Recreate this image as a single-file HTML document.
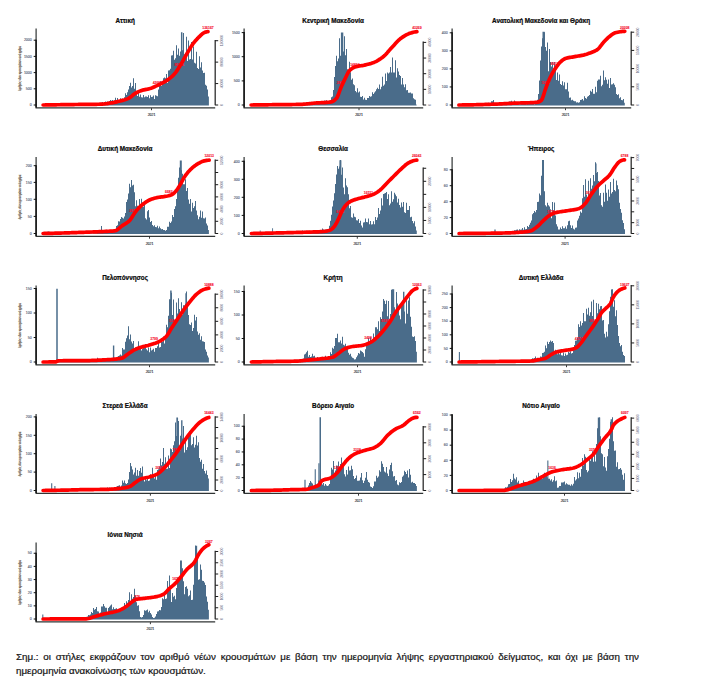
<!DOCTYPE html>
<html lang="el">
<head>
<meta charset="utf-8">
<title>Κρούσματα ανά περιφέρεια</title>
<style>
html,body{margin:0;padding:0;background:#fff;}
body{width:706px;height:689px;position:relative;overflow:hidden;font-family:"Liberation Sans","DejaVu Sans",sans-serif;}
svg{position:absolute;left:0;top:0;}
svg text{font-family:"Liberation Sans","DejaVu Sans",sans-serif;}
.tt{font-size:6.35px;font-weight:bold;fill:#0a0a0a;stroke:#0a0a0a;stroke-width:0.22px;}
.tl{font-size:3.5px;fill:#51566f;stroke:#51566f;stroke-width:0.1px;}
.xl{font-size:3.45px;fill:#23262d;stroke:#23262d;stroke-width:0.12px;}
.rl{font-size:3.4px;fill:#66687f;}
.yt{font-size:2.9px;fill:#66574a;stroke:#66574a;stroke-width:0.14px;}
.rd{font-size:3.4px;fill:#f5102e;font-weight:bold;stroke:#f5102e;stroke-width:0.1px;}
.note{position:absolute;left:16px;top:650px;width:623px;font-size:9.8px;line-height:14px;color:#151515;-webkit-text-stroke:0.22px #151515;text-align:justify;margin:0;}
</style>
</head>
<body>
<svg width="706" height="689" viewBox="0 0 706 689">
<g transform="translate(36.1 105)">
<path d="M7 0V-0.47 H7.9V-0.71 H8.9V-0.62 H9.9V-0.89 H10.9V-1.01 H11.9V-0.97 H12.9V-0.96 H13.9V-0.68 H14.9V-0.93 H15.9V-0.76 H16.9V-0.74 H17.9V-0.62 H18.9V-0.66 H19.9V-0.59 H20.9V-0.66 H21.9V-0.68 H22.9V-0.51 H23.9V-0.75 H24.9V-0.7 H25.9V-0.53 H26.9V-0.69 H27.9V-0.48 H28.9V-0.64 H29.9V-0.62 H30.9V-0.66 H31.9V-0.55 H32.9V-0.41 H33.9V-0.5 H34.9V-0.43 H35.9V-0.61 H36.9V-0.49 H37.9V-0.53 H38.9V-0.49 H39.9V-0.54 H40.9V-0.51 H41.9V-0.48 H42.9V-0.4 H43.9V-0.51 H44.9V-0.49 H45.9V-0.58 H46.9V-0.48 H47.9V-0.5 H48.9V-0.59 H49.9V-0.53 H50.9V-0.52 H51.9V-0.67 H52.9V-0.47 H53.9V-0.55 H54.9V-0.59 H55.9V-0.73 H56.9V-0.54 H57.9V-0.74 H58.9V-0.57 H59.9V-0.76 H60.9V-0.9 H61.9V-0.8 H62.9V-0.78 H63.9V-1.81 H64.9V-2.61 H65.9V-3.34 H66.9V-2.45 H67.9V-2.64 H68.9V-3.94 H69.9V-2.93 H70.9V-3.91 H71.9V-3.73 H72.9V-4.29 H73.9V-5.48 H74.9V-4.77 H75.9V-5.5 H76.9V-4.75 H77.9V-5.05 H78.9V-7.58 H79.9V-5.15 H80.9V-7.3 H81.9V-5.14 H82.9V-5.31 H83.9V-7.12 H84.9V-6.41 H85.9V-7.02 H86.9V-5.99 H87.9V-8.17 H88.9V-12.09 H89.9V-10.48 H90.9V-13.19 H91.9V-15.79 H92.9V-19.41 H93.9V-22.53 H94.9V-17.97 H95.9V-19.38 H96.9V-27.1 H97.9V-16.6 H98.9V-22.34 H99.9V-12.67 H100.9V-9.36 H101.9V-12.56 H102.9V-8.77 H103.9V-10.88 H104.9V-8.17 H105.9V-7.9 H106.9V-10.4 H107.9V-8.05 H108.9V-8.88 H109.9V-8.91 H110.9V-8.4 H111.9V-10.23 H112.9V-7.2 H113.9V-10.18 H114.9V-8.47 H115.9V-8.59 H116.9V-9.96 H117.9V-6.47 H118.9V-10.08 H119.9V-9.64 H120.9V-9.12 H121.9V-15.8 H122.9V-21.77 H123.9V-24.19 H124.9V-19.32 H125.9V-21.62 H126.9V-27.22 H127.9V-27.88 H128.9V-27.24 H129.9V-31.46 H130.9V-22.3 H131.9V-34.87 H132.9V-35.23 H133.9V-36.53 H134.9V-49.84 H135.9V-50.2 H136.9V-54.72 H137.9V-45.55 H138.9V-47.07 H139.9V-60.12 H140.9V-50.53 H141.9V-57.02 H142.9V-49.53 H143.9V-53.84 H144.9V-70.98 H145.9V-55.03 H146.9V-72.49 H147.9V-51.06 H148.9V-48.92 H149.9V-68.63 H150.9V-44.28 H151.9V-64.93 H152.9V-45.79 H153.9V-46.43 H154.9V-63.28 H155.9V-45.91 H156.9V-58.91 H157.9V-42.72 H158.9V-41.97 H159.9V-53.68 H160.9V-37.48 H161.9V-36.49 H162.9V-49.23 H163.9V-37.91 H164.9V-43.25 H165.9V-34.78 H166.9V-32.39 H167.9V-32.75 H168.9V-20.69 H169.9V-19.77 H170.9V-15.99 H171.9V-8.81 H172.8V0ZM144.85 0V-73.2H146.35V0Z" fill="#4a6c8a" transform="translate(0 0.4)"/>
<path d="M0 -76.5V2.9H179.1" fill="none" stroke="#303434" stroke-width="1.2" stroke-linejoin="miter"/>
<path d="M0 -65.3V2.6" fill="none" stroke="#0c0c0c" stroke-width="1.4"/>
<path d="M-2.4 0H0M-2.4 -16.2H0M-2.4 -32.4H0M-2.4 -48.6H0M-2.4 -64.8H0" stroke="#111" stroke-width="1" fill="none"/>
<text class="tl" x="-4.4" y="1.2" text-anchor="end">0</text>
<text class="tl" x="-4.4" y="-15" text-anchor="end">500</text>
<text class="tl" x="-4.4" y="-31.2" text-anchor="end">1000</text>
<text class="tl" x="-4.4" y="-47.4" text-anchor="end">1500</text>
<text class="tl" x="-4.4" y="-63.6" text-anchor="end">2000</text>
<path d="M115.4 3.2V5.2" stroke="#222" stroke-width="0.9"/>
<text class="xl" x="115.4" y="11.4" text-anchor="middle">2021</text>
<path d="M179.1 -65.09V0.2" stroke="#2e2e2e" stroke-width="1.3" fill="none"/>
<path d="M179.1 0h3M179.1 -21.43h3M179.1 -42.86h3M179.1 -64.29h3" stroke="#1c1c1c" stroke-width="1" fill="none"/>
<text class="rl" transform="translate(186.7 0) rotate(-90)" text-anchor="middle">0</text>
<text class="rl" transform="translate(186.7 -21.43) rotate(-90)" text-anchor="middle">40000</text>
<text class="rl" transform="translate(186.7 -42.86) rotate(-90)" text-anchor="middle">80000</text>
<text class="rl" transform="translate(186.7 -64.29) rotate(-90)" text-anchor="middle">120000</text>
<text class="yt" transform="translate(-14.9 -36.5) rotate(-90)" text-anchor="middle" textLength="44.8" lengthAdjust="spacingAndGlyphs">Αριθμός νέων κρουσμάτων ανά ημέρα</text>
<text class="rd" x="121.3" y="-21.5" text-anchor="middle">42661</text>
<text class="rd" x="143" y="-39.4" text-anchor="middle">85176</text>
<path d="M7 -0 L8.19 -0.02 L9.37 -0.04 L10.56 -0.06 L11.75 -0.08 L12.93 -0.1 L14.12 -0.12 L15.3 -0.14 L16.49 -0.15 L17.68 -0.17 L18.86 -0.19 L20.05 -0.21 L21.24 -0.23 L22.42 -0.25 L23.61 -0.26 L24.79 -0.28 L25.98 -0.3 L27.17 -0.32 L28.35 -0.34 L29.54 -0.35 L30.73 -0.37 L31.91 -0.39 L33.1 -0.4 L34.29 -0.42 L35.47 -0.44 L36.66 -0.45 L37.84 -0.47 L39.03 -0.49 L40.22 -0.5 L41.4 -0.52 L42.59 -0.53 L43.78 -0.54 L44.96 -0.56 L46.15 -0.57 L47.34 -0.58 L48.52 -0.59 L49.71 -0.6 L50.89 -0.61 L52.08 -0.62 L53.27 -0.63 L54.45 -0.64 L55.64 -0.65 L56.83 -0.67 L58.01 -0.68 L59.2 -0.7 L60.38 -0.72 L61.57 -0.75 L62.76 -0.77 L63.94 -0.8 L65.13 -0.84 L66.32 -0.92 L67.5 -1.02 L68.69 -1.14 L69.88 -1.28 L71.06 -1.44 L72.25 -1.62 L73.43 -1.8 L74.62 -1.98 L75.81 -2.17 L76.99 -2.37 L78.18 -2.6 L79.37 -2.86 L80.55 -3.14 L81.74 -3.44 L82.93 -3.75 L84.11 -4.05 L85.3 -4.36 L86.48 -4.66 L87.67 -4.97 L88.86 -5.31 L90.04 -5.69 L91.23 -6.12 L92.42 -6.61 L93.6 -7.28 L94.79 -8.19 L95.97 -9.21 L97.16 -10.23 L98.35 -11.16 L99.53 -11.88 L100.72 -12.51 L101.91 -13.1 L103.09 -13.63 L104.28 -14.11 L105.47 -14.53 L106.65 -14.89 L107.84 -15.18 L109.02 -15.43 L110.21 -15.66 L111.4 -15.89 L112.58 -16.15 L113.77 -16.46 L114.96 -16.84 L116.14 -17.28 L117.33 -17.77 L118.52 -18.29 L119.7 -18.82 L120.89 -19.35 L122.07 -19.91 L123.26 -20.48 L124.45 -21.08 L125.63 -21.7 L126.82 -22.33 L128.01 -22.98 L129.19 -23.65 L130.38 -24.36 L131.56 -25.12 L132.75 -25.96 L133.94 -26.86 L135.12 -27.85 L136.31 -28.93 L137.5 -30.1 L138.68 -31.39 L139.87 -32.89 L141.06 -34.6 L142.24 -36.47 L143.43 -38.41 L144.61 -40.36 L145.8 -42.35 L146.99 -44.43 L148.17 -46.57 L149.36 -48.71 L150.55 -50.8 L151.73 -52.82 L152.92 -54.88 L154.11 -56.91 L155.29 -58.85 L156.48 -60.64 L157.66 -62.23 L158.85 -63.7 L160.04 -65.07 L161.22 -66.34 L162.41 -67.54 L163.6 -68.68 L164.78 -69.83 L165.97 -70.93 L167.15 -71.84 L168.34 -72.46 L169.53 -72.9 L170.71 -73.24 L171.9 -73.4" fill="none" stroke="#ff0000" stroke-width="3.7" stroke-linecap="round" stroke-linejoin="round"/>
<text class="rd" x="171.9" y="-76.4" text-anchor="middle">136167</text>
<text class="tt" x="89" y="-82.1" text-anchor="middle">Αττική</text>
</g>
<g transform="translate(244.1 105)">
<path d="M7.4 0V-0.25 H7.9V-0.21 H8.9V-0.23 H9.9V-0.32 H10.9V-0.25 H11.9V-0.3 H12.9V-0.31 H13.9V-0.36 H14.9V-0.23 H15.9V-0.29 H16.9V-0.28 H17.9V-0.31 H18.9V-0.28 H19.9V-0.26 H20.9V-0.4 H21.9V-0.36 H22.9V-0.37 H23.9V-0.42 H24.9V-0.36 H25.9V-0.31 H26.9V-0.37 H27.9V-0.42 H28.9V-0.38 H29.9V-0.45 H30.9V-0.44 H31.9V-0.52 H32.9V-0.4 H33.9V-0.37 H34.9V-0.48 H35.9V-0.5 H36.9V-0.5 H37.9V-0.51 H38.9V-0.44 H39.9V-0.55 H40.9V-0.58 H41.9V-0.67 H42.9V-0.68 H43.9V-0.55 H44.9V-0.71 H45.9V-0.69 H46.9V-0.66 H47.9V-0.77 H48.9V-0.88 H49.9V-0.65 H50.9V-0.61 H51.9V-0.6 H52.9V-0.66 H53.9V-0.89 H54.9V-0.95 H55.9V-1.35 H56.9V-1.65 H57.9V-1.96 H58.9V-2.08 H59.9V-1.94 H60.9V-2.06 H61.9V-3.16 H62.9V-2.33 H63.9V-2.25 H64.9V-2.43 H65.9V-2.01 H66.9V-2.52 H67.9V-2.67 H68.9V-3.17 H69.9V-2.17 H70.9V-2.28 H71.9V-3.02 H72.9V-3.03 H73.9V-3.75 H74.9V-2.74 H75.9V-2.88 H76.9V-4.42 H77.9V-3.11 H78.9V-3.18 H79.9V-4.96 H80.9V-4.59 H81.9V-5.15 H82.9V-4.46 H83.9V-4.21 H84.9V-4.71 H85.9V-5.06 H86.9V-8.27 H87.9V-8.84 H88.9V-15.41 H89.9V-28.28 H90.9V-39.49 H91.9V-49.58 H92.9V-44.24 H93.9V-46.94 H94.9V-67.15 H95.9V-49.76 H96.9V-70.6 H97.9V-52.48 H98.9V-53.82 H99.9V-69.05 H100.9V-50.1 H101.9V-56.33 H102.9V-36.17 H103.9V-35.49 H104.9V-43.59 H105.9V-33.15 H106.9V-25.75 H107.9V-26.96 H108.9V-21.18 H109.9V-20.14 H110.9V-14.5 H111.9V-13.13 H112.9V-17.06 H113.9V-12.88 H114.9V-13.8 H115.9V-8.75 H116.9V-8.41 H117.9V-9.34 H118.9V-5.92 H119.9V-7.71 H120.9V-5.56 H121.9V-5.31 H122.9V-7.35 H123.9V-7.41 H124.9V-9.46 H125.9V-8.71 H126.9V-9.1 H127.9V-13.27 H128.9V-11.35 H129.9V-12.97 H130.9V-14.19 H131.9V-16.21 H132.9V-17.67 H133.9V-16.49 H134.9V-20.93 H135.9V-16.22 H136.9V-18.59 H137.9V-28.71 H138.9V-19.54 H139.9V-21 H140.9V-31.96 H141.9V-24.28 H142.9V-32.9 H143.9V-32.02 H144.9V-32.93 H145.9V-38.41 H146.9V-32.8 H147.9V-48.01 H148.9V-32.93 H149.9V-32.9 H150.9V-45.27 H151.9V-27.9 H152.9V-37.18 H153.9V-33.97 H154.9V-30.36 H155.9V-29.47 H156.9V-20.87 H157.9V-27.52 H158.9V-20.8 H159.9V-18.17 H160.9V-21.22 H161.9V-15.05 H162.9V-15.48 H163.9V-12.6 H164.9V-12.72 H165.9V-12.93 H166.9V-11.81 H167.9V-11.9 H168.9V-7.17 H169.9V-6.12 H170.9V-5.64 H171.9V-0.93 H172.5V0ZM96.8 0V-72.8H99.2V0Z" fill="#4a6c8a" transform="translate(0 0.4)"/>
<path d="M0 -76.5V2.9H179.1" fill="none" stroke="#303434" stroke-width="1.2" stroke-linejoin="miter"/>
<path d="M0 -72.9V2.6" fill="none" stroke="#0c0c0c" stroke-width="1.4"/>
<path d="M-2.4 0H0M-2.4 -24.1H0M-2.4 -48.3H0M-2.4 -72.4H0" stroke="#111" stroke-width="1" fill="none"/>
<text class="tl" x="-4.4" y="1.2" text-anchor="end">0</text>
<text class="tl" x="-4.4" y="-22.9" text-anchor="end">500</text>
<text class="tl" x="-4.4" y="-47.1" text-anchor="end">1000</text>
<text class="tl" x="-4.4" y="-71.2" text-anchor="end">1500</text>
<path d="M114.9 3.2V5.2" stroke="#222" stroke-width="0.9"/>
<text class="xl" x="114.9" y="11.4" text-anchor="middle">2021</text>
<path d="M179.1 -63.4V0.2" stroke="#2e2e2e" stroke-width="1.3" fill="none"/>
<path d="M179.1 0h3M179.1 -15.65h3M179.1 -31.3h3M179.1 -46.95h3M179.1 -62.6h3" stroke="#1c1c1c" stroke-width="1" fill="none"/>
<text class="rl" transform="translate(186.7 0) rotate(-90)" text-anchor="middle">0</text>
<text class="rl" transform="translate(186.7 -15.65) rotate(-90)" text-anchor="middle">10000</text>
<text class="rl" transform="translate(186.7 -31.3) rotate(-90)" text-anchor="middle">20000</text>
<text class="rl" transform="translate(186.7 -46.95) rotate(-90)" text-anchor="middle">30000</text>
<text class="rl" transform="translate(186.7 -62.6) rotate(-90)" text-anchor="middle">40000</text>
<text class="rd" x="110.8" y="-39.4" text-anchor="middle">14824</text>
<text class="rd" x="96.5" y="-21.5" text-anchor="middle">2812</text>
<path d="M7 -0 L8.19 -0.02 L9.39 -0.03 L10.58 -0.05 L11.77 -0.06 L12.96 -0.08 L14.16 -0.09 L15.35 -0.11 L16.54 -0.13 L17.74 -0.14 L18.93 -0.16 L20.12 -0.17 L21.31 -0.19 L22.51 -0.2 L23.7 -0.22 L24.89 -0.23 L26.08 -0.25 L27.28 -0.26 L28.47 -0.28 L29.66 -0.29 L30.86 -0.31 L32.05 -0.32 L33.24 -0.33 L34.43 -0.34 L35.63 -0.35 L36.82 -0.36 L38.01 -0.37 L39.21 -0.38 L40.4 -0.39 L41.59 -0.4 L42.78 -0.41 L43.98 -0.43 L45.17 -0.44 L46.36 -0.45 L47.56 -0.46 L48.75 -0.48 L49.94 -0.49 L51.13 -0.51 L52.33 -0.53 L53.52 -0.55 L54.71 -0.57 L55.91 -0.6 L57.1 -0.64 L58.29 -0.71 L59.48 -0.79 L60.68 -0.89 L61.87 -1.01 L63.06 -1.14 L64.25 -1.27 L65.45 -1.4 L66.64 -1.53 L67.83 -1.66 L69.03 -1.78 L70.22 -1.89 L71.41 -1.98 L72.6 -2.05 L73.8 -2.12 L74.99 -2.18 L76.18 -2.23 L77.38 -2.28 L78.57 -2.34 L79.76 -2.4 L80.95 -2.47 L82.15 -2.55 L83.34 -2.65 L84.53 -2.76 L85.73 -2.9 L86.92 -3.06 L88.11 -3.34 L89.3 -3.95 L90.5 -4.84 L91.69 -5.98 L92.88 -7.34 L94.07 -9.85 L95.27 -13.25 L96.46 -16.44 L97.65 -19.17 L98.85 -21.81 L100.04 -24.35 L101.23 -26.77 L102.42 -29.28 L103.62 -31.73 L104.81 -33.76 L106 -35.07 L107.2 -36.04 L108.39 -36.86 L109.58 -37.5 L110.77 -37.99 L111.97 -38.35 L113.16 -38.63 L114.35 -38.86 L115.55 -39.06 L116.74 -39.24 L117.93 -39.43 L119.12 -39.64 L120.32 -39.88 L121.51 -40.16 L122.7 -40.44 L123.89 -40.73 L125.09 -41.05 L126.28 -41.38 L127.47 -41.75 L128.67 -42.16 L129.86 -42.6 L131.05 -43.12 L132.24 -43.7 L133.44 -44.36 L134.63 -45.08 L135.82 -45.85 L137.02 -46.68 L138.21 -47.55 L139.4 -48.48 L140.59 -49.57 L141.79 -50.8 L142.98 -52.11 L144.17 -53.49 L145.37 -54.88 L146.56 -56.24 L147.75 -57.54 L148.94 -58.79 L150.14 -60.09 L151.33 -61.41 L152.52 -62.7 L153.72 -63.95 L154.91 -65.12 L156.1 -66.16 L157.29 -67.06 L158.49 -67.88 L159.68 -68.65 L160.87 -69.37 L162.06 -70.05 L163.26 -70.65 L164.45 -71.19 L165.64 -71.65 L166.84 -72.03 L168.03 -72.37 L169.22 -72.68 L170.41 -72.95 L171.61 -73.16 L172.8 -73.3" fill="none" stroke="#ff0000" stroke-width="3.7" stroke-linecap="round" stroke-linejoin="round"/>
<text class="rd" x="172.8" y="-76.4" text-anchor="middle">43269</text>
<text class="tt" x="89" y="-82.1" text-anchor="middle">Κεντρική Μακεδονία</text>
</g>
<g transform="translate(452.1 105)">
<path d="M7.2 0V-0.3 H7.9V-0.2 H8.9V-0.24 H9.9V-0.23 H10.9V-0.26 H11.9V-0.22 H12.9V-0.29 H13.9V-0.25 H14.9V-0.35 H15.9V-0.3 H16.9V-0.26 H17.9V-0.3 H18.9V-0.37 H19.9V-0.41 H20.9V-0.35 H21.9V-0.35 H22.9V-0.31 H23.9V-0.37 H24.9V-0.39 H25.9V-0.39 H26.9V-0.29 H27.9V-0.36 H28.9V-0.35 H29.9V-0.49 H30.9V-0.58 H31.9V-1.16 H32.9V-1.2 H33.9V-1.37 H34.9V-1.96 H35.9V-2.73 H36.9V-1.95 H37.9V-2.28 H38.9V-4.16 H39.9V-4.21 H40.9V-5.38 H41.9V-1.22 H42.9V-1.32 H43.9V-1.27 H44.9V-1.44 H45.9V-0.96 H46.9V-1.27 H47.9V-1.44 H48.9V-1.24 H49.9V-1.44 H50.9V-1.25 H51.9V-1.52 H52.9V-2.44 H53.9V-3.23 H54.9V-2.85 H55.9V-3.22 H56.9V-3.93 H57.9V-3.85 H58.9V-4.54 H59.9V-3.6 H60.9V-3.38 H61.9V-4.8 H62.9V-3.57 H63.9V-3.25 H64.9V-1.43 H65.9V-1.69 H66.9V-1.22 H67.9V-1.27 H68.9V-1.37 H69.9V-1.62 H70.9V-1.63 H71.9V-1.31 H72.9V-1.47 H73.9V-1.26 H74.9V-1.3 H75.9V-1.34 H76.9V-1.29 H77.9V-1.46 H78.9V-1.48 H79.9V-1.47 H80.9V-1.66 H81.9V-1.2 H82.9V-1.64 H83.9V-1.31 H84.9V-5.54 H85.9V-11.41 H86.9V-25.02 H87.9V-44.84 H88.9V-58.82 H89.9V-67.15 H90.9V-59.81 H91.9V-73.05 H92.9V-58.43 H93.9V-54.64 H94.9V-63.02 H95.9V-34.15 H96.9V-56.35 H97.9V-43.4 H98.9V-38.9 H99.9V-43.32 H100.9V-35.4 H101.9V-43.52 H102.9V-37.24 H103.9V-25.45 H104.9V-32.86 H105.9V-24.58 H106.9V-30.96 H107.9V-21.48 H108.9V-20.39 H109.9V-24.07 H110.9V-20.02 H111.9V-23.23 H112.9V-16.26 H113.9V-16.15 H114.9V-22.59 H115.9V-13.93 H116.9V-7.63 H117.9V-7.87 H118.9V-5.26 H119.9V-5.63 H120.9V-4.64 H121.9V-4.06 H122.9V-4.22 H123.9V-2.94 H124.9V-3.12 H125.9V-2.67 H126.9V-3.1 H127.9V-5.42 H128.9V-5.57 H129.9V-6.47 H130.9V-4.98 H131.9V-9.19 H132.9V-7.5 H133.9V-6.62 H134.9V-8.62 H135.9V-9.34 H136.9V-10.51 H137.9V-14.72 H138.9V-13.64 H139.9V-16.44 H140.9V-11.75 H141.9V-11.62 H142.9V-18.54 H143.9V-13.14 H144.9V-24.77 H145.9V-25.89 H146.9V-26 H147.9V-29.59 H148.9V-19.16 H149.9V-20.76 H150.9V-34.94 H151.9V-25.19 H152.9V-28.23 H153.9V-25.68 H154.9V-21.59 H155.9V-25.94 H156.9V-17.44 H157.9V-27.42 H158.9V-20.9 H159.9V-21.08 H160.9V-22.13 H161.9V-20.56 H162.9V-18.15 H163.9V-11.39 H164.9V-10.48 H165.9V-11.15 H166.9V-7.06 H167.9V-8.08 H168.9V-5.36 H169.9V-5.13 H170.9V-6.28 H171.9V-2.59 H172.7V0ZM90.4 0V-73.6H92.6V0Z" fill="#4a6c8a" transform="translate(0 0.4)"/>
<path d="M0 -76.5V2.9H179.1" fill="none" stroke="#303434" stroke-width="1.2" stroke-linejoin="miter"/>
<path d="M0 -72.7V2.6" fill="none" stroke="#0c0c0c" stroke-width="1.4"/>
<path d="M-2.4 0H0M-2.4 -18.05H0M-2.4 -36.1H0M-2.4 -54.15H0M-2.4 -72.2H0" stroke="#111" stroke-width="1" fill="none"/>
<text class="tl" x="-4.4" y="1.2" text-anchor="end">0</text>
<text class="tl" x="-4.4" y="-16.85" text-anchor="end">100</text>
<text class="tl" x="-4.4" y="-34.9" text-anchor="end">200</text>
<text class="tl" x="-4.4" y="-52.95" text-anchor="end">300</text>
<text class="tl" x="-4.4" y="-71" text-anchor="end">400</text>
<path d="M113.4 3.2V5.2" stroke="#222" stroke-width="0.9"/>
<text class="xl" x="113.4" y="11.4" text-anchor="middle">2021</text>
<path d="M179.1 -73.6V0.2" stroke="#2e2e2e" stroke-width="1.3" fill="none"/>
<path d="M179.1 0h3M179.1 -18.2h3M179.1 -36.4h3M179.1 -54.6h3M179.1 -72.8h3" stroke="#1c1c1c" stroke-width="1" fill="none"/>
<text class="rl" transform="translate(186.7 0) rotate(-90)" text-anchor="middle">0</text>
<text class="rl" transform="translate(186.7 -18.2) rotate(-90)" text-anchor="middle">5000</text>
<text class="rl" transform="translate(186.7 -36.4) rotate(-90)" text-anchor="middle">10000</text>
<text class="rl" transform="translate(186.7 -54.6) rotate(-90)" text-anchor="middle">15000</text>
<text class="rl" transform="translate(186.7 -72.8) rotate(-90)" text-anchor="middle">20000</text>
<text class="rd" x="102.2" y="-39.7" text-anchor="middle">8932</text>
<text class="rd" x="93.5" y="-21.5" text-anchor="middle">5012</text>
<path d="M6.8 -0 L7.99 -0.01 L9.19 -0.02 L10.38 -0.03 L11.57 -0.05 L12.77 -0.06 L13.96 -0.08 L15.15 -0.1 L16.35 -0.12 L17.54 -0.14 L18.74 -0.17 L19.93 -0.19 L21.12 -0.22 L22.32 -0.25 L23.51 -0.27 L24.7 -0.3 L25.9 -0.34 L27.09 -0.37 L28.28 -0.4 L29.48 -0.43 L30.67 -0.47 L31.86 -0.5 L33.06 -0.54 L34.25 -0.58 L35.44 -0.61 L36.64 -0.65 L37.83 -0.69 L39.03 -0.73 L40.22 -0.77 L41.41 -0.81 L42.61 -0.85 L43.8 -0.9 L44.99 -0.95 L46.19 -1.01 L47.38 -1.06 L48.57 -1.13 L49.77 -1.19 L50.96 -1.26 L52.15 -1.32 L53.35 -1.39 L54.54 -1.46 L55.73 -1.52 L56.93 -1.59 L58.12 -1.65 L59.32 -1.71 L60.51 -1.77 L61.7 -1.82 L62.9 -1.87 L64.09 -1.91 L65.28 -1.95 L66.48 -1.98 L67.67 -2.01 L68.86 -2.04 L70.06 -2.07 L71.25 -2.1 L72.44 -2.13 L73.64 -2.16 L74.83 -2.19 L76.02 -2.23 L77.22 -2.27 L78.41 -2.33 L79.61 -2.38 L80.8 -2.45 L81.99 -2.52 L83.19 -2.61 L84.38 -2.71 L85.57 -2.82 L86.77 -3.13 L87.96 -3.73 L89.15 -4.58 L90.35 -6.5 L91.54 -10.09 L92.73 -14.06 L93.93 -17.37 L95.12 -20.55 L96.31 -23.58 L97.51 -26.26 L98.7 -28.7 L99.89 -31 L101.09 -33.14 L102.28 -35.11 L103.48 -36.9 L104.67 -38.6 L105.86 -40.2 L107.06 -41.66 L108.25 -42.94 L109.44 -44 L110.64 -44.94 L111.83 -45.75 L113.02 -46.38 L114.22 -46.79 L115.41 -47.1 L116.6 -47.35 L117.8 -47.56 L118.99 -47.76 L120.18 -47.95 L121.38 -48.16 L122.57 -48.38 L123.77 -48.59 L124.96 -48.78 L126.15 -48.98 L127.35 -49.18 L128.54 -49.39 L129.73 -49.62 L130.93 -49.87 L132.12 -50.15 L133.31 -50.48 L134.51 -50.84 L135.7 -51.23 L136.89 -51.65 L138.09 -52.09 L139.28 -52.55 L140.47 -53.02 L141.67 -53.51 L142.86 -54.05 L144.06 -54.66 L145.25 -55.4 L146.44 -56.4 L147.64 -57.78 L148.83 -59.36 L150.02 -60.96 L151.22 -62.41 L152.41 -63.69 L153.6 -64.96 L154.8 -66.17 L155.99 -67.3 L157.18 -68.31 L158.38 -69.25 L159.57 -70.18 L160.76 -71.03 L161.96 -71.72 L163.15 -72.19 L164.35 -72.5 L165.54 -72.78 L166.73 -73.04 L167.93 -73.26 L169.12 -73.45 L170.31 -73.58 L171.51 -73.67 L172.7 -73.7" fill="none" stroke="#ff0000" stroke-width="3.7" stroke-linecap="round" stroke-linejoin="round"/>
<text class="rd" x="172.7" y="-76.4" text-anchor="middle">20208</text>
<text class="tt" x="89" y="-82.1" text-anchor="middle">Ανατολική Μακεδονία και Θράκη</text>
</g>
<g transform="translate(36.1 233.5)">
<path d="M7 0V-0.44 H7.9V-0.55 H8.9V-0.86 H9.9V-1.65 H10.9V-2.24 H11.9V-2.34 H12.9V-2.04 H13.9V-0.83 H14.9V-0.58 H15.9V-0.75 H16.9V-0.73 H17.9V-0.48 H18.9V-0.7 H19.9V-0.66 H20.9V-0.46 H21.9V-0.61 H22.9V-0.45 H23.9V-0.48 H24.9V-0.47 H25.9V-0.57 H26.9V-0.61 H27.9V-0.43 H28.9V-0.47 H29.9V-0.48 H30.9V-0.47 H31.9V-0.55 H32.9V-0.48 H33.9V-0.41 H34.9V-0.54 H35.9V-0.47 H36.9V-0.41 H37.9V-0.5 H38.9V-0.46 H39.9V-0.37 H40.9V-0.46 H41.9V-0.58 H42.9V-0.65 H43.9V-0.91 H44.9V-0.76 H45.9V-1.24 H46.9V-0.93 H47.9V-1.27 H48.9V-1.48 H49.9V-1.79 H50.9V-1.34 H51.9V-0.63 H52.9V-0.61 H53.9V-0.57 H54.9V-0.68 H55.9V-0.51 H56.9V-0.59 H57.9V-0.7 H58.9V-0.53 H59.9V-0.68 H60.9V-0.87 H61.9V-0.99 H62.9V-1.34 H63.9V-2.71 H64.9V-7.8 H65.9V-3.45 H66.9V-1.95 H67.9V-2.32 H68.9V-2.82 H69.9V-4.23 H70.9V-3.57 H71.9V-3.83 H72.9V-2.08 H73.9V-2.19 H74.9V-2.04 H75.9V-2.55 H76.9V-3.74 H77.9V-3.07 H78.9V-3.86 H79.9V-7.91 H80.9V-8.69 H81.9V-12.57 H82.9V-12.41 H83.9V-14.83 H84.9V-16.89 H85.9V-16.16 H86.9V-15.52 H87.9V-17.28 H88.9V-20.79 H89.9V-31.81 H90.9V-34.47 H91.9V-40.37 H92.9V-50.21 H93.9V-46.65 H94.9V-53.9 H95.9V-48.34 H96.9V-49.18 H97.9V-41.67 H98.9V-27.63 H99.9V-33.57 H100.9V-28.16 H101.9V-28.01 H102.9V-34.88 H103.9V-29.09 H104.9V-35.27 H105.9V-27.06 H106.9V-27.25 H107.9V-30.1 H108.9V-15.59 H109.9V-14.28 H110.9V-22.55 H111.9V-23.82 H112.9V-16.32 H113.9V-11.84 H114.9V-12.93 H115.9V-9.01 H116.9V-7.61 H117.9V-8.69 H118.9V-6.99 H119.9V-6.75 H120.9V-8.16 H121.9V-5.61 H122.9V-7.31 H123.9V-5.67 H124.9V-4.7 H125.9V-4.94 H126.9V-3.86 H127.9V-3.93 H128.9V-3.11 H129.9V-3.93 H130.9V-7.05 H131.9V-7.13 H132.9V-12.25 H133.9V-11 H134.9V-12.45 H135.9V-19.01 H136.9V-16.92 H137.9V-24.8 H138.9V-27.64 H139.9V-34.97 H140.9V-46.69 H141.9V-56.17 H142.9V-66.46 H143.9V-61.66 H144.9V-63.77 H145.9V-60.23 H146.9V-49.67 H147.9V-49.6 H148.9V-54.77 H149.9V-42.84 H150.9V-45.91 H151.9V-34.49 H152.9V-30.13 H153.9V-35.01 H154.9V-22.44 H155.9V-31.05 H156.9V-25.85 H157.9V-27.75 H158.9V-32.99 H159.9V-23.31 H160.9V-18.68 H161.9V-14.55 H162.9V-17.18 H163.9V-23.49 H164.9V-16.16 H165.9V-22.28 H166.9V-15.6 H167.9V-15.32 H168.9V-16.48 H169.9V-10.48 H170.9V-8.42 H171.9V-3.83 H172.8V0ZM143.7 0V-73.3H145.7V0Z" fill="#4a6c8a" transform="translate(0 0.4)"/>
<path d="M0 -76.5V2.9H179.1" fill="none" stroke="#303434" stroke-width="1.2" stroke-linejoin="miter"/>
<path d="M0 -68.3V2.6" fill="none" stroke="#0c0c0c" stroke-width="1.4"/>
<path d="M-2.4 0H0M-2.4 -17.1H0M-2.4 -34.2H0M-2.4 -51.1H0M-2.4 -67.8H0" stroke="#111" stroke-width="1" fill="none"/>
<text class="tl" x="-4.4" y="1.2" text-anchor="end">0</text>
<text class="tl" x="-4.4" y="-15.9" text-anchor="end">50</text>
<text class="tl" x="-4.4" y="-33" text-anchor="end">100</text>
<text class="tl" x="-4.4" y="-49.9" text-anchor="end">150</text>
<text class="tl" x="-4.4" y="-66.6" text-anchor="end">200</text>
<path d="M113.4 3.2V5.2" stroke="#222" stroke-width="0.9"/>
<text class="xl" x="113.4" y="11.4" text-anchor="middle">2021</text>
<path d="M179.1 -74V0.2" stroke="#2e2e2e" stroke-width="1.3" fill="none"/>
<path d="M179.1 0h3M179.1 -12.2h3M179.1 -24.4h3M179.1 -36.6h3M179.1 -48.8h3M179.1 -61h3M179.1 -73.2h3" stroke="#1c1c1c" stroke-width="1" fill="none"/>
<text class="rl" transform="translate(186.7 0) rotate(-90)" text-anchor="middle">0</text>
<text class="rl" transform="translate(186.7 -12.2) rotate(-90)" text-anchor="middle">2000</text>
<text class="rl" transform="translate(186.7 -24.4) rotate(-90)" text-anchor="middle">4000</text>
<text class="rl" transform="translate(186.7 -36.6) rotate(-90)" text-anchor="middle">6000</text>
<text class="rl" transform="translate(186.7 -48.8) rotate(-90)" text-anchor="middle">8000</text>
<text class="rl" transform="translate(186.7 -73.2) rotate(-90)" text-anchor="middle">12000</text>
<text class="yt" transform="translate(-14.9 -36.5) rotate(-90)" text-anchor="middle" textLength="44.8" lengthAdjust="spacingAndGlyphs">Αριθμός νέων κρουσμάτων ανά ημέρα</text>
<text class="rd" x="132.7" y="-40.1" text-anchor="middle">6682</text>
<text class="rd" x="97" y="-21.9" text-anchor="middle">2679</text>
<path d="M7 -0 L8.19 -0.03 L9.39 -0.05 L10.58 -0.08 L11.78 -0.11 L12.97 -0.14 L14.17 -0.16 L15.36 -0.19 L16.56 -0.22 L17.75 -0.26 L18.95 -0.29 L20.14 -0.32 L21.34 -0.35 L22.53 -0.38 L23.73 -0.42 L24.92 -0.45 L26.12 -0.49 L27.31 -0.52 L28.51 -0.56 L29.7 -0.59 L30.9 -0.63 L32.09 -0.66 L33.29 -0.7 L34.48 -0.74 L35.68 -0.78 L36.87 -0.82 L38.07 -0.86 L39.26 -0.91 L40.46 -0.95 L41.65 -0.99 L42.85 -1.04 L44.04 -1.08 L45.24 -1.13 L46.43 -1.17 L47.63 -1.21 L48.82 -1.26 L50.02 -1.3 L51.21 -1.35 L52.41 -1.39 L53.6 -1.44 L54.8 -1.48 L55.99 -1.52 L57.19 -1.57 L58.38 -1.61 L59.58 -1.66 L60.77 -1.7 L61.97 -1.75 L63.16 -1.8 L64.36 -1.85 L65.55 -1.9 L66.75 -1.96 L67.94 -2.01 L69.14 -2.07 L70.33 -2.13 L71.53 -2.19 L72.72 -2.24 L73.92 -2.3 L75.11 -2.36 L76.31 -2.45 L77.5 -2.55 L78.7 -2.68 L79.89 -2.97 L81.09 -3.64 L82.28 -4.55 L83.48 -5.6 L84.67 -6.65 L85.87 -7.61 L87.06 -8.41 L88.26 -9.15 L89.45 -9.88 L90.65 -10.66 L91.84 -11.53 L93.04 -12.54 L94.23 -13.86 L95.43 -15.54 L96.62 -17.43 L97.82 -19.36 L99.01 -21.18 L100.21 -22.72 L101.4 -24.09 L102.6 -25.39 L103.79 -26.61 L104.99 -27.75 L106.18 -28.79 L107.38 -29.73 L108.57 -30.6 L109.77 -31.43 L110.96 -32.19 L112.16 -32.88 L113.35 -33.49 L114.55 -34 L115.74 -34.44 L116.94 -34.85 L118.13 -35.22 L119.33 -35.54 L120.52 -35.82 L121.72 -36.06 L122.91 -36.25 L124.11 -36.41 L125.3 -36.55 L126.5 -36.7 L127.69 -36.86 L128.89 -37.07 L130.08 -37.29 L131.28 -37.53 L132.47 -37.8 L133.67 -38.12 L134.86 -38.51 L136.06 -39.02 L137.25 -39.85 L138.45 -40.96 L139.64 -42.23 L140.84 -43.67 L142.03 -45.43 L143.23 -47.36 L144.42 -49.34 L145.62 -51.58 L146.81 -53.91 L148.01 -56.04 L149.2 -57.81 L150.4 -59.45 L151.59 -60.96 L152.79 -62.34 L153.98 -63.58 L155.18 -64.73 L156.37 -65.8 L157.57 -66.81 L158.76 -67.74 L159.96 -68.58 L161.15 -69.33 L162.35 -70.04 L163.54 -70.72 L164.74 -71.35 L165.93 -71.9 L167.13 -72.34 L168.32 -72.65 L169.52 -72.89 L170.71 -73.1 L171.91 -73.24 L173.1 -73.3" fill="none" stroke="#ff0000" stroke-width="3.7" stroke-linecap="round" stroke-linejoin="round"/>
<text class="rd" x="173.1" y="-76.4" text-anchor="middle">12013</text>
<text class="tt" x="89" y="-82.1" text-anchor="middle">Δυτική Μακεδονία</text>
</g>
<g transform="translate(244.1 233.5)">
<path d="M7.7 0V-0.2 H7.9V-0.29 H8.9V-0.31 H9.9V-0.29 H10.9V-0.25 H11.9V-0.31 H12.9V-0.43 H13.9V-0.32 H14.9V-0.36 H15.9V-0.48 H16.9V-0.46 H17.9V-0.51 H18.9V-0.39 H19.9V-0.44 H20.9V-0.52 H21.9V-0.57 H22.9V-0.42 H23.9V-0.52 H24.9V-0.54 H25.9V-0.41 H26.9V-0.45 H27.9V-0.61 H28.9V-0.62 H29.9V-0.44 H30.9V-0.51 H31.9V-0.64 H32.9V-0.53 H33.9V-0.61 H34.9V-0.63 H35.9V-0.66 H36.9V-0.67 H37.9V-0.53 H38.9V-0.47 H39.9V-0.52 H40.9V-0.71 H41.9V-0.52 H42.9V-0.6 H43.9V-0.7 H44.9V-0.53 H45.9V-0.82 H46.9V-0.88 H47.9V-0.85 H48.9V-0.9 H49.9V-0.9 H50.9V-1.16 H51.9V-0.8 H52.9V-1.2 H53.9V-0.99 H54.9V-0.96 H55.9V-1.08 H56.9V-1.5 H57.9V-3.3 H58.9V-2.57 H59.9V-3.18 H60.9V-2.96 H61.9V-3.01 H62.9V-2.65 H63.9V-2.61 H64.9V-3.04 H65.9V-1.73 H66.9V-1.53 H67.9V-1.78 H68.9V-2.81 H69.9V-2.27 H70.9V-3.36 H71.9V-2.42 H72.9V-3.19 H73.9V-2.65 H74.9V-2.76 H75.9V-3.21 H76.9V-3.46 H77.9V-5.43 H78.9V-4.4 H79.9V-3.9 H80.9V-4.35 H81.9V-4.49 H82.9V-4.5 H83.9V-4.88 H84.9V-8.18 H85.9V-13.16 H86.9V-19.16 H87.9V-27.49 H88.9V-33.41 H89.9V-40.7 H90.9V-49.79 H91.9V-59.44 H92.9V-67.96 H93.9V-65.13 H94.9V-67.3 H95.9V-74 H96.9V-59.21 H97.9V-66.47 H98.9V-46.5 H99.9V-39.66 H100.9V-55.57 H101.9V-48.31 H102.9V-46.76 H103.9V-39.63 H104.9V-25.66 H105.9V-27.84 H106.9V-16.68 H107.9V-16.04 H108.9V-20.43 H109.9V-17.06 H110.9V-16.53 H111.9V-13.68 H112.9V-13.3 H113.9V-14.84 H114.9V-10.86 H115.9V-13.11 H116.9V-8.4 H117.9V-6.35 H118.9V-11.31 H119.9V-11.74 H120.9V-15.36 H121.9V-11.82 H122.9V-11.62 H123.9V-15.48 H124.9V-9.69 H125.9V-12.95 H126.9V-9.28 H127.9V-9.74 H128.9V-12.55 H129.9V-9.77 H130.9V-16.83 H131.9V-13.86 H132.9V-16.36 H133.9V-25.95 H134.9V-20 H135.9V-23.33 H136.9V-35.62 H137.9V-28.41 H138.9V-39.96 H139.9V-40.36 H140.9V-40.96 H141.9V-41.95 H142.9V-34.89 H143.9V-39.59 H144.9V-28.72 H145.9V-30.3 H146.9V-42.69 H147.9V-32.13 H148.9V-34.61 H149.9V-41.18 H150.9V-39.36 H151.9V-37.58 H152.9V-31.32 H153.9V-35.24 H154.9V-28.91 H155.9V-26.33 H156.9V-31.36 H157.9V-27.21 H158.9V-31.9 H159.9V-21.54 H160.9V-20.89 H161.9V-31.03 H162.9V-23.88 H163.9V-23.86 H164.9V-27.82 H165.9V-16.54 H166.9V-17.25 H167.9V-12.84 H168.9V-10.7 H169.9V-12.64 H170.9V-7.38 H171.9V-3.51 H172.7V0ZM15.65 0V-3.3H16.55V0ZM28.05 0V-5.6H28.95V0ZM95.3 0V-73.7H97.3V0Z" fill="#4a6c8a" transform="translate(0 0.4)"/>
<path d="M0 -76.5V2.9H179.1" fill="none" stroke="#303434" stroke-width="1.2" stroke-linejoin="miter"/>
<path d="M0 -72.7V2.6" fill="none" stroke="#0c0c0c" stroke-width="1.4"/>
<path d="M-2.4 0H0M-2.4 -18.1H0M-2.4 -36.2H0M-2.4 -54.2H0M-2.4 -72.2H0" stroke="#111" stroke-width="1" fill="none"/>
<text class="tl" x="-4.4" y="1.2" text-anchor="end">0</text>
<text class="tl" x="-4.4" y="-16.9" text-anchor="end">100</text>
<text class="tl" x="-4.4" y="-35" text-anchor="end">200</text>
<text class="tl" x="-4.4" y="-53" text-anchor="end">300</text>
<text class="tl" x="-4.4" y="-71" text-anchor="end">400</text>
<path d="M113.2 3.2V5.2" stroke="#222" stroke-width="0.9"/>
<text class="xl" x="113.2" y="11.4" text-anchor="middle">2021</text>
<path d="M179.1 -66.05V0.2" stroke="#2e2e2e" stroke-width="1.3" fill="none"/>
<path d="M179.1 0h3M179.1 -13.05h3M179.1 -26.1h3M179.1 -39.15h3M179.1 -52.2h3M179.1 -65.25h3" stroke="#1c1c1c" stroke-width="1" fill="none"/>
<text class="rl" transform="translate(186.7 0) rotate(-90)" text-anchor="middle">0</text>
<text class="rl" transform="translate(186.7 -13.05) rotate(-90)" text-anchor="middle">5000</text>
<text class="rl" transform="translate(186.7 -26.1) rotate(-90)" text-anchor="middle">10000</text>
<text class="rl" transform="translate(186.7 -52.2) rotate(-90)" text-anchor="middle">20000</text>
<text class="rd" x="124.4" y="-39.9" text-anchor="middle">16511</text>
<text class="rd" x="96" y="-20.9" text-anchor="middle">6412</text>
<path d="M7.3 -0 L8.49 -0.02 L9.68 -0.05 L10.87 -0.07 L12.06 -0.09 L13.25 -0.12 L14.44 -0.14 L15.63 -0.17 L16.82 -0.19 L18.01 -0.22 L19.2 -0.24 L20.39 -0.27 L21.58 -0.3 L22.77 -0.32 L23.96 -0.35 L25.15 -0.37 L26.34 -0.4 L27.53 -0.43 L28.72 -0.45 L29.91 -0.48 L31.1 -0.51 L32.29 -0.54 L33.48 -0.56 L34.67 -0.59 L35.86 -0.62 L37.05 -0.65 L38.24 -0.68 L39.43 -0.71 L40.62 -0.73 L41.81 -0.76 L43 -0.79 L44.19 -0.82 L45.38 -0.85 L46.57 -0.88 L47.76 -0.92 L48.95 -0.95 L50.14 -0.98 L51.33 -1.01 L52.52 -1.04 L53.71 -1.08 L54.9 -1.11 L56.09 -1.14 L57.28 -1.17 L58.47 -1.21 L59.66 -1.24 L60.85 -1.27 L62.04 -1.31 L63.23 -1.34 L64.42 -1.38 L65.61 -1.42 L66.8 -1.46 L67.99 -1.5 L69.18 -1.54 L70.37 -1.59 L71.56 -1.63 L72.75 -1.68 L73.94 -1.72 L75.13 -1.77 L76.32 -1.83 L77.51 -1.9 L78.7 -1.98 L79.89 -2.09 L81.08 -2.24 L82.27 -2.44 L83.46 -2.68 L84.65 -2.98 L85.84 -3.34 L87.03 -3.92 L88.22 -4.87 L89.41 -6.1 L90.59 -7.5 L91.78 -9.4 L92.97 -11.7 L94.16 -14.13 L95.35 -16.64 L96.54 -19.45 L97.73 -22.17 L98.92 -24.36 L100.11 -26.18 L101.3 -27.78 L102.49 -29.12 L103.68 -30.19 L104.87 -31.12 L106.06 -31.9 L107.25 -32.53 L108.44 -33.04 L109.63 -33.49 L110.82 -33.88 L112.01 -34.24 L113.2 -34.59 L114.39 -34.93 L115.58 -35.25 L116.77 -35.55 L117.96 -35.84 L119.15 -36.13 L120.34 -36.42 L121.53 -36.74 L122.72 -37.05 L123.91 -37.36 L125.1 -37.68 L126.29 -38.03 L127.48 -38.42 L128.67 -38.87 L129.86 -39.41 L131.05 -40.04 L132.24 -40.75 L133.43 -41.53 L134.62 -42.37 L135.81 -43.26 L137 -44.29 L138.19 -45.47 L139.38 -46.74 L140.57 -48.04 L141.76 -49.33 L142.95 -50.55 L144.14 -51.75 L145.33 -52.94 L146.52 -54.13 L147.71 -55.32 L148.9 -56.51 L150.09 -57.69 L151.28 -58.89 L152.47 -60.09 L153.66 -61.28 L154.85 -62.46 L156.04 -63.6 L157.23 -64.7 L158.42 -65.81 L159.61 -66.92 L160.8 -67.99 L161.99 -68.98 L163.18 -69.85 L164.37 -70.57 L165.56 -71.22 L166.75 -71.8 L167.94 -72.3 L169.13 -72.7 L170.32 -73 L171.51 -73.24 L172.7 -73.4" fill="none" stroke="#ff0000" stroke-width="3.7" stroke-linecap="round" stroke-linejoin="round"/>
<text class="rd" x="172.7" y="-76.4" text-anchor="middle">26043</text>
<text class="tt" x="89" y="-82.1" text-anchor="middle">Θεσσαλία</text>
</g>
<g transform="translate(452.1 233.5)">
<path d="M7.4 0V-0.28 H7.9V-0.28 H8.9V-0.24 H9.9V-0.31 H10.9V-0.31 H11.9V-0.25 H12.9V-0.24 H13.9V-0.34 H14.9V-0.33 H15.9V-0.4 H16.9V-0.3 H17.9V-0.36 H18.9V-0.32 H19.9V-0.34 H20.9V-0.47 H21.9V-0.49 H22.9V-0.48 H23.9V-0.42 H24.9V-0.5 H25.9V-0.45 H26.9V-0.44 H27.9V-0.48 H28.9V-0.44 H29.9V-0.37 H30.9V-0.34 H31.9V-0.47 H32.9V-0.38 H33.9V-0.34 H34.9V-0.54 H35.9V-0.48 H36.9V-0.39 H37.9V-0.47 H38.9V-0.47 H39.9V-0.4 H40.9V-0.49 H41.9V-0.38 H42.9V-0.43 H43.9V-0.4 H44.9V-0.4 H45.9V-0.38 H46.9V-0.54 H47.9V-0.37 H48.9V-0.42 H49.9V-0.46 H50.9V-0.56 H51.9V-0.97 H52.9V-1.17 H53.9V-1.04 H54.9V-1.14 H55.9V-1.5 H56.9V-1.86 H57.9V-1.54 H58.9V-1.85 H59.9V-2.41 H60.9V-2.8 H61.9V-3.59 H62.9V-3.73 H63.9V-4.05 H64.9V-4.33 H65.9V-3.23 H66.9V-4.71 H67.9V-4.26 H68.9V-4.49 H69.9V-5.8 H70.9V-4.17 H71.9V-6.72 H72.9V-4.61 H73.9V-4.99 H74.9V-7.79 H75.9V-7 H76.9V-9.24 H77.9V-11.13 H78.9V-13.28 H79.9V-19.69 H80.9V-20.98 H81.9V-22.95 H82.9V-21.55 H83.9V-23.82 H84.9V-31.99 H85.9V-32.09 H86.9V-40.44 H87.9V-38.58 H88.9V-58.17 H89.9V-74 H90.9V-74 H91.9V-42.72 H92.9V-28.73 H93.9V-27.35 H94.9V-31.05 H95.9V-28.62 H96.9V-27.49 H97.9V-24.61 H98.9V-15.62 H99.9V-31.86 H100.9V-23.51 H101.9V-31.35 H102.9V-18.3 H103.9V-9.55 H104.9V-7.36 H105.9V-4.43 H106.9V-4.43 H107.9V-6.49 H108.9V-4.97 H109.9V-7.53 H110.9V-5.58 H111.9V-5.74 H112.9V-7.35 H113.9V-5.1 H114.9V-8.63 H115.9V-12.76 H116.9V-13.2 H117.9V-8.58 H118.9V-5.79 H119.9V-8.37 H120.9V-5.09 H121.9V-4.28 H122.9V-6.23 H123.9V-6.31 H124.9V-13.35 H125.9V-15.51 H126.9V-18.12 H127.9V-22.49 H128.9V-21.27 H129.9V-35.6 H130.9V-49.02 H131.9V-37.24 H132.9V-54.57 H133.9V-39.47 H134.9V-36.68 H135.9V-53.05 H136.9V-37.06 H137.9V-55.71 H138.9V-45.18 H139.9V-48.4 H140.9V-58.9 H141.9V-52.7 H142.9V-71.53 H143.9V-61.01 H144.9V-62.01 H145.9V-52.95 H146.9V-38.47 H147.9V-40.85 H148.9V-28.61 H149.9V-27.03 H150.9V-41.11 H151.9V-32.13 H152.9V-49.49 H153.9V-41.18 H154.9V-33.25 H155.9V-44.44 H156.9V-37.2 H157.9V-52.02 H158.9V-40.35 H159.9V-41.99 H160.9V-55.07 H161.9V-43.95 H162.9V-42.59 H163.9V-53.36 H164.9V-48.58 H165.9V-44.65 H166.9V-31.23 H167.9V-24.88 H168.9V-21.24 H169.9V-13.74 H170.9V-10.84 H171.9V-4.69 H172.9V0ZM12.4 0V-2H13.4V0ZM42.25 0V-4.4H43.55V0ZM90.05 0V-73.7H91.55V0ZM142.95 0V-70.3H144.45V0Z" fill="#4a6c8a" transform="translate(0 0.4)"/>
<path d="M0 -76.5V2.9H179.1" fill="none" stroke="#303434" stroke-width="1.2" stroke-linejoin="miter"/>
<path d="M0 -64.2V2.6" fill="none" stroke="#0c0c0c" stroke-width="1.4"/>
<path d="M-2.4 0H0M-2.4 -15.9H0M-2.4 -31.8H0M-2.4 -47.8H0M-2.4 -63.7H0" stroke="#111" stroke-width="1" fill="none"/>
<text class="tl" x="-4.4" y="1.2" text-anchor="end">0</text>
<text class="tl" x="-4.4" y="-14.7" text-anchor="end">20</text>
<text class="tl" x="-4.4" y="-30.6" text-anchor="end">40</text>
<text class="tl" x="-4.4" y="-46.6" text-anchor="end">60</text>
<text class="tl" x="-4.4" y="-62.5" text-anchor="end">80</text>
<path d="M113 3.2V5.2" stroke="#222" stroke-width="0.9"/>
<text class="xl" x="113" y="11.4" text-anchor="middle">2021</text>
<path d="M179.1 -76.68V0.2" stroke="#2e2e2e" stroke-width="1.3" fill="none"/>
<path d="M179.1 0h3M179.1 -10.84h3M179.1 -21.68h3M179.1 -32.52h3M179.1 -43.36h3M179.1 -54.2h3M179.1 -65.04h3M179.1 -75.88h3" stroke="#1c1c1c" stroke-width="1" fill="none"/>
<text class="rl" transform="translate(186.7 0) rotate(-90)" text-anchor="middle">0</text>
<text class="rl" transform="translate(186.7 -10.84) rotate(-90)" text-anchor="middle">1000</text>
<text class="rl" transform="translate(186.7 -32.52) rotate(-90)" text-anchor="middle">3000</text>
<text class="rl" transform="translate(186.7 -54.2) rotate(-90)" text-anchor="middle">5000</text>
<text class="rl" transform="translate(186.7 -75.88) rotate(-90)" text-anchor="middle">7000</text>
<text class="rd" x="137.3" y="-39.9" text-anchor="middle">3691</text>
<text class="rd" x="99" y="-20.9" text-anchor="middle">1675</text>
<path d="M7 -0 L8.19 -0.01 L9.38 -0.01 L10.57 -0.02 L11.76 -0.03 L12.95 -0.03 L14.14 -0.04 L15.33 -0.05 L16.52 -0.06 L17.71 -0.07 L18.9 -0.08 L20.09 -0.09 L21.28 -0.1 L22.47 -0.11 L23.66 -0.12 L24.85 -0.13 L26.04 -0.15 L27.23 -0.16 L28.42 -0.17 L29.61 -0.18 L30.8 -0.19 L31.99 -0.21 L33.18 -0.22 L34.37 -0.23 L35.56 -0.24 L36.75 -0.26 L37.94 -0.27 L39.13 -0.29 L40.32 -0.3 L41.51 -0.32 L42.7 -0.33 L43.89 -0.35 L45.08 -0.37 L46.27 -0.39 L47.46 -0.41 L48.65 -0.43 L49.84 -0.46 L51.03 -0.48 L52.22 -0.51 L53.41 -0.54 L54.6 -0.57 L55.79 -0.62 L56.98 -0.66 L58.17 -0.71 L59.36 -0.77 L60.55 -0.82 L61.74 -0.89 L62.93 -0.95 L64.12 -1.02 L65.31 -1.09 L66.5 -1.15 L67.69 -1.23 L68.88 -1.31 L70.07 -1.39 L71.26 -1.49 L72.45 -1.6 L73.64 -1.72 L74.83 -1.87 L76.02 -2.03 L77.21 -2.22 L78.4 -2.47 L79.59 -2.94 L80.78 -3.62 L81.97 -4.43 L83.16 -5.34 L84.35 -6.3 L85.54 -7.25 L86.73 -8.27 L87.92 -9.44 L89.11 -10.68 L90.29 -11.93 L91.48 -13.09 L92.67 -14.2 L93.86 -15.32 L95.05 -16.39 L96.24 -17.36 L97.43 -18.16 L98.62 -18.83 L99.81 -19.44 L101 -19.98 L102.19 -20.44 L103.38 -20.8 L104.57 -21.08 L105.76 -21.32 L106.95 -21.54 L108.14 -21.73 L109.33 -21.9 L110.52 -22.07 L111.71 -22.23 L112.9 -22.4 L114.09 -22.58 L115.28 -22.78 L116.47 -22.98 L117.66 -23.17 L118.85 -23.34 L120.04 -23.51 L121.23 -23.7 L122.42 -23.9 L123.61 -24.12 L124.8 -24.39 L125.99 -24.7 L127.18 -25.06 L128.37 -25.6 L129.56 -26.42 L130.75 -27.47 L131.94 -28.66 L133.13 -29.93 L134.32 -31.4 L135.51 -33.2 L136.7 -35.18 L137.89 -37.15 L139.08 -38.97 L140.27 -40.66 L141.46 -42.31 L142.65 -43.92 L143.84 -45.43 L145.03 -46.82 L146.22 -48.08 L147.41 -49.24 L148.6 -50.34 L149.79 -51.41 L150.98 -52.48 L152.17 -53.52 L153.36 -54.48 L154.55 -55.46 L155.74 -56.51 L156.93 -57.72 L158.12 -59.24 L159.31 -61.07 L160.5 -63.05 L161.69 -64.97 L162.88 -66.68 L164.07 -68.25 L165.26 -69.82 L166.45 -71.19 L167.64 -72.16 L168.83 -72.74 L170.02 -73.23 L171.21 -73.57 L172.4 -73.7" fill="none" stroke="#ff0000" stroke-width="3.7" stroke-linecap="round" stroke-linejoin="round"/>
<text class="rd" x="172.4" y="-76.4" text-anchor="middle">6788</text>
<text class="tt" x="89" y="-82.1" text-anchor="middle">Ήπειρος</text>
</g>
<g transform="translate(36.1 362)">
<path d="M7 0V-0.26 H7.9V-0.28 H8.9V-0.4 H9.9V-0.41 H10.9V-0.45 H11.9V-0.31 H12.9V-0.35 H13.9V-0.51 H14.9V-0.4 H15.9V-0.5 H16.9V-0.54 H17.9V-0.36 H18.9V-0.58 H19.9V-0.8 H20.9V-1.03 H21.9V-0.92 H22.9V-1.17 H23.9V-1.29 H24.9V-0.91 H25.9V-0.83 H26.9V-0.84 H27.9V-1.01 H28.9V-1.27 H29.9V-1.02 H30.9V-1.24 H31.9V-0.79 H32.9V-0.79 H33.9V-1.01 H34.9V-1.04 H35.9V-1.09 H36.9V-0.88 H37.9V-0.95 H38.9V-0.98 H39.9V-0.82 H40.9V-0.89 H41.9V-0.96 H42.9V-0.95 H43.9V-0.68 H44.9V-0.76 H45.9V-0.95 H46.9V-1.07 H47.9V-1 H48.9V-0.86 H49.9V-0.91 H50.9V-0.97 H51.9V-0.9 H52.9V-0.95 H53.9V-1 H54.9V-0.98 H55.9V-1.17 H56.9V-1.21 H57.9V-1.26 H58.9V-1.01 H59.9V-2.04 H60.9V-4.6 H61.9V-2.26 H62.9V-1.3 H63.9V-1.94 H64.9V-2.61 H65.9V-3.68 H66.9V-3.96 H67.9V-3.6 H68.9V-2.51 H69.9V-1.62 H70.9V-1.97 H71.9V-2.29 H72.9V-1.47 H73.9V-1.67 H74.9V-2.17 H75.9V-2.1 H76.9V-2.39 H77.9V-3.58 H78.9V-4.28 H79.9V-3.71 H80.9V-5.73 H81.9V-6.39 H82.9V-6.96 H83.9V-7.87 H84.9V-6.93 H85.9V-14.47 H86.9V-12.83 H87.9V-12.84 H88.9V-20.71 H89.9V-24.03 H90.9V-26.99 H91.9V-36.22 H92.9V-23.15 H93.9V-27.96 H94.9V-20.91 H95.9V-18.91 H96.9V-21.37 H97.9V-12.11 H98.9V-15.23 H99.9V-13.36 H100.9V-15.06 H101.9V-21.23 H102.9V-13.44 H103.9V-14.75 H104.9V-11.78 H105.9V-13.61 H106.9V-15.96 H107.9V-14.47 H108.9V-18.51 H109.9V-13.22 H110.9V-11.78 H111.9V-14.9 H112.9V-10.11 H113.9V-14.97 H114.9V-11.84 H115.9V-12.57 H116.9V-13.76 H117.9V-10.64 H118.9V-14.3 H119.9V-14.32 H120.9V-16.22 H121.9V-19.91 H122.9V-14.9 H123.9V-15.44 H124.9V-24.4 H125.9V-20.37 H126.9V-26.01 H127.9V-18.94 H128.9V-26.12 H129.9V-37.71 H130.9V-35.09 H131.9V-46.73 H132.9V-63.25 H133.9V-63.23 H134.9V-69.72 H135.9V-47.47 H136.9V-62.91 H137.9V-42.42 H138.9V-39.15 H139.9V-59.9 H140.9V-48.98 H141.9V-64.23 H142.9V-53.39 H143.9V-50.39 H144.9V-60.06 H145.9V-47.47 H146.9V-57.2 H147.9V-57.09 H148.9V-58.67 H149.9V-70.94 H150.9V-59.53 H151.9V-47.28 H152.9V-38.09 H153.9V-37.39 H154.9V-39.8 H155.9V-31.35 H156.9V-34.43 H157.9V-47.64 H158.9V-41.83 H159.9V-45.36 H160.9V-30.83 H161.9V-27.72 H162.9V-29.08 H163.9V-22.57 H164.9V-26.03 H165.9V-21.14 H166.9V-20.95 H167.9V-20.39 H168.9V-12.92 H169.9V-10.63 H170.9V-6.94 H171.9V-4.88 H172.8V0ZM134.05 0V-71.8H135.55V0ZM149.25 0V-69.2H150.75V0ZM20.15 0V-73.6H21.65V0ZM76.8 0V-16.9H78.2V0Z" fill="#4a6c8a" transform="translate(0 0.4)"/>
<path d="M0 -76.5V2.9H179.1" fill="none" stroke="#303434" stroke-width="1.2" stroke-linejoin="miter"/>
<path d="M0 -74V2.6" fill="none" stroke="#0c0c0c" stroke-width="1.4"/>
<path d="M-2.4 0H0M-2.4 -24.5H0M-2.4 -49H0M-2.4 -73.5H0" stroke="#111" stroke-width="1" fill="none"/>
<text class="tl" x="-4.4" y="1.2" text-anchor="end">0</text>
<text class="tl" x="-4.4" y="-23.3" text-anchor="end">50</text>
<text class="tl" x="-4.4" y="-47.8" text-anchor="end">100</text>
<text class="tl" x="-4.4" y="-72.3" text-anchor="end">150</text>
<path d="M113.4 3.2V5.2" stroke="#222" stroke-width="0.9"/>
<text class="xl" x="113.4" y="11.4" text-anchor="middle">2021</text>
<path d="M179.1 -68.6V0.2" stroke="#2e2e2e" stroke-width="1.3" fill="none"/>
<path d="M179.1 0h3M179.1 -13.56h3M179.1 -27.12h3M179.1 -40.68h3M179.1 -54.24h3M179.1 -67.8h3" stroke="#1c1c1c" stroke-width="1" fill="none"/>
<text class="rl" transform="translate(186.7 0) rotate(-90)" text-anchor="middle">0</text>
<text class="rl" transform="translate(186.7 -13.56) rotate(-90)" text-anchor="middle">2000</text>
<text class="rl" transform="translate(186.7 -27.12) rotate(-90)" text-anchor="middle">4000</text>
<text class="rl" transform="translate(186.7 -40.68) rotate(-90)" text-anchor="middle">6000</text>
<text class="rl" transform="translate(186.7 -54.24) rotate(-90)" text-anchor="middle">8000</text>
<text class="rl" transform="translate(186.7 -67.8) rotate(-90)" text-anchor="middle">10000</text>
<text class="yt" transform="translate(-14.9 -36.5) rotate(-90)" text-anchor="middle" textLength="44.8" lengthAdjust="spacingAndGlyphs">Αριθμός νέων κρουσμάτων ανά ημέρα</text>
<text class="rd" x="118" y="-22.4" text-anchor="middle">3799</text>
<text class="rd" x="137" y="-40.4" text-anchor="middle">5142</text>
<path d="M7 -0 L8.19 -0 L9.39 -0 L10.58 -0.01 L11.77 -0.02 L12.96 -0.03 L14.16 -0.05 L15.35 -0.07 L16.54 -0.09 L17.74 -0.12 L18.93 -0.16 L20.12 -0.21 L21.31 -0.93 L22.51 -1.21 L23.7 -1.23 L24.89 -1.25 L26.08 -1.26 L27.28 -1.28 L28.47 -1.29 L29.66 -1.3 L30.86 -1.3 L32.05 -1.31 L33.24 -1.32 L34.43 -1.32 L35.63 -1.32 L36.82 -1.33 L38.01 -1.33 L39.21 -1.33 L40.4 -1.34 L41.59 -1.34 L42.78 -1.34 L43.98 -1.35 L45.17 -1.36 L46.36 -1.36 L47.56 -1.37 L48.75 -1.39 L49.94 -1.4 L51.13 -1.42 L52.33 -1.44 L53.52 -1.47 L54.71 -1.5 L55.91 -1.54 L57.1 -1.58 L58.29 -1.62 L59.48 -1.67 L60.68 -1.72 L61.87 -1.78 L63.06 -1.84 L64.25 -1.9 L65.45 -1.96 L66.64 -2.03 L67.83 -2.09 L69.03 -2.16 L70.22 -2.23 L71.41 -2.3 L72.6 -2.37 L73.8 -2.44 L74.99 -2.52 L76.18 -2.61 L77.38 -2.7 L78.57 -2.81 L79.76 -2.93 L80.95 -3.07 L82.15 -3.22 L83.34 -3.4 L84.53 -3.6 L85.73 -3.83 L86.92 -4.3 L88.11 -5.07 L89.3 -6.01 L90.5 -6.97 L91.69 -7.83 L92.88 -8.65 L94.07 -9.5 L95.27 -10.33 L96.46 -11.1 L97.65 -11.78 L98.85 -12.39 L100.04 -12.95 L101.23 -13.48 L102.42 -13.95 L103.62 -14.37 L104.81 -14.75 L106 -15.09 L107.2 -15.39 L108.39 -15.69 L109.58 -15.98 L110.77 -16.27 L111.97 -16.58 L113.16 -16.93 L114.35 -17.29 L115.55 -17.66 L116.74 -18.04 L117.93 -18.43 L119.12 -18.84 L120.32 -19.29 L121.51 -19.78 L122.7 -20.31 L123.89 -20.9 L125.09 -21.57 L126.28 -22.33 L127.47 -23.19 L128.67 -24.16 L129.86 -25.26 L131.05 -26.62 L132.24 -28.44 L133.44 -30.51 L134.63 -32.58 L135.82 -34.46 L137.02 -36.27 L138.21 -38.07 L139.4 -39.85 L140.59 -41.64 L141.79 -43.44 L142.98 -45.26 L144.17 -47.08 L145.37 -48.87 L146.56 -50.63 L147.75 -52.32 L148.94 -53.98 L150.14 -55.6 L151.33 -57.18 L152.52 -58.71 L153.72 -60.18 L154.91 -61.67 L156.1 -63.13 L157.29 -64.55 L158.49 -65.88 L159.68 -67.1 L160.87 -68.18 L162.06 -69.15 L163.26 -70.07 L164.45 -70.9 L165.64 -71.62 L166.84 -72.18 L168.03 -72.62 L169.22 -73.04 L170.41 -73.38 L171.61 -73.65 L172.8 -73.8" fill="none" stroke="#ff0000" stroke-width="3.7" stroke-linecap="round" stroke-linejoin="round"/>
<text class="rd" x="172.8" y="-76.4" text-anchor="middle">10888</text>
<text class="tt" x="89" y="-82.1" text-anchor="middle">Πελοπόννησος</text>
</g>
<g transform="translate(244.1 362)">
<path d="M7.7 0V-0.27 H7.9V-0.31 H8.9V-0.25 H9.9V-0.25 H10.9V-0.22 H11.9V-0.25 H12.9V-0.35 H13.9V-0.37 H14.9V-0.35 H15.9V-0.34 H16.9V-0.28 H17.9V-0.39 H18.9V-0.4 H19.9V-0.38 H20.9V-0.32 H21.9V-0.36 H22.9V-0.39 H23.9V-0.47 H24.9V-0.5 H25.9V-0.54 H26.9V-0.51 H27.9V-0.47 H28.9V-0.37 H29.9V-0.45 H30.9V-0.38 H31.9V-0.5 H32.9V-0.42 H33.9V-0.4 H34.9V-0.65 H35.9V-0.45 H36.9V-0.47 H37.9V-0.65 H38.9V-0.47 H39.9V-0.47 H40.9V-0.45 H41.9V-0.64 H42.9V-0.67 H43.9V-0.61 H44.9V-0.53 H45.9V-0.61 H46.9V-0.5 H47.9V-0.75 H48.9V-0.49 H49.9V-0.62 H50.9V-0.79 H51.9V-1.02 H52.9V-1.8 H53.9V-1.65 H54.9V-2.61 H55.9V-2.76 H56.9V-2.87 H57.9V-3.42 H58.9V-3.99 H59.9V-7.95 H60.9V-8.76 H61.9V-10.16 H62.9V-11.63 H63.9V-5.75 H64.9V-7.47 H65.9V-5.28 H66.9V-5.9 H67.9V-8.72 H68.9V-6.22 H69.9V-6.66 H70.9V-3.99 H71.9V-3.9 H72.9V-5.32 H73.9V-4.29 H74.9V-4.03 H75.9V-4.86 H76.9V-3.85 H77.9V-5.65 H78.9V-4.72 H79.9V-4.99 H80.9V-6.76 H81.9V-4.58 H82.9V-5.41 H83.9V-3.76 H84.9V-5.47 H85.9V-10.1 H86.9V-8.48 H87.9V-14.55 H88.9V-13.74 H89.9V-16.5 H90.9V-24.31 H91.9V-24.41 H92.9V-28.67 H93.9V-20.1 H94.9V-20.2 H95.9V-21.86 H96.9V-18.86 H97.9V-25.75 H98.9V-17.71 H99.9V-16.78 H100.9V-18.66 H101.9V-13.31 H102.9V-14.69 H103.9V-9.68 H104.9V-7.67 H105.9V-8.54 H106.9V-5.94 H107.9V-4.69 H108.9V-4.26 H109.9V-2.83 H110.9V-3.13 H111.9V-5.08 H112.9V-7 H113.9V-9.43 H114.9V-8.76 H115.9V-11.83 H116.9V-11.26 H117.9V-10.4 H118.9V-9.06 H119.9V-5.68 H120.9V-13.26 H121.9V-18.38 H122.9V-19.38 H123.9V-24.52 H124.9V-20.95 H125.9V-25.16 H126.9V-22 H127.9V-22.67 H128.9V-28.84 H129.9V-25.18 H130.9V-35.2 H131.9V-35.16 H132.9V-33.18 H133.9V-41.25 H134.9V-31.35 H135.9V-45.17 H136.9V-43.4 H137.9V-50.78 H138.9V-63.5 H139.9V-61.75 H140.9V-58.31 H141.9V-61.97 H142.9V-46.22 H143.9V-61.45 H144.9V-43.7 H145.9V-48.5 H146.9V-72.33 H147.9V-49.12 H148.9V-69.84 H149.9V-55.13 H150.9V-51.87 H151.9V-70.29 H152.9V-58.97 H153.9V-55.28 H154.9V-47.02 H155.9V-43.25 H156.9V-58.33 H157.9V-61.26 H158.9V-68.05 H159.9V-50.82 H160.9V-38.95 H161.9V-65.98 H162.9V-48.69 H163.9V-62 H164.9V-65.24 H165.9V-45.53 H166.9V-35.6 H167.9V-25.94 H168.9V-25.33 H169.9V-26.12 H170.9V-21.31 H171.9V-10.54 H172.8V0ZM147.5 0V-73.2H150.1V0ZM158.9 0V-70.6H160.3V0Z" fill="#4a6c8a" transform="translate(0 0.4)"/>
<path d="M0 -76.5V2.9H179.1" fill="none" stroke="#303434" stroke-width="1.2" stroke-linejoin="miter"/>
<path d="M0 -71V2.6" fill="none" stroke="#0c0c0c" stroke-width="1.4"/>
<path d="M-2.4 0H0M-2.4 -23.5H0M-2.4 -47H0M-2.4 -70.5H0" stroke="#111" stroke-width="1" fill="none"/>
<text class="tl" x="-4.4" y="1.2" text-anchor="end">0</text>
<text class="tl" x="-4.4" y="-22.3" text-anchor="end">50</text>
<text class="tl" x="-4.4" y="-45.8" text-anchor="end">100</text>
<text class="tl" x="-4.4" y="-69.3" text-anchor="end">150</text>
<path d="M113.4 3.2V5.2" stroke="#222" stroke-width="0.9"/>
<text class="xl" x="113.4" y="11.4" text-anchor="middle">2021</text>
<path d="M179.1 -72.8V0.2" stroke="#2e2e2e" stroke-width="1.3" fill="none"/>
<path d="M179.1 0h3M179.1 -12h3M179.1 -24h3M179.1 -36h3M179.1 -48h3M179.1 -60h3M179.1 -72h3" stroke="#1c1c1c" stroke-width="1" fill="none"/>
<text class="rl" transform="translate(186.7 0) rotate(-90)" text-anchor="middle">0</text>
<text class="rl" transform="translate(186.7 -12) rotate(-90)" text-anchor="middle">2000</text>
<text class="rl" transform="translate(186.7 -24) rotate(-90)" text-anchor="middle">4000</text>
<text class="rl" transform="translate(186.7 -36) rotate(-90)" text-anchor="middle">6000</text>
<text class="rl" transform="translate(186.7 -48) rotate(-90)" text-anchor="middle">8000</text>
<text class="rl" transform="translate(186.7 -72) rotate(-90)" text-anchor="middle">12000</text>
<text class="rd" x="124" y="-22.9" text-anchor="middle">3499</text>
<text class="rd" x="141" y="-40.4" text-anchor="middle">6546</text>
<path d="M7.3 -0 L8.49 -0.03 L9.68 -0.06 L10.87 -0.09 L12.06 -0.12 L13.25 -0.14 L14.44 -0.17 L15.63 -0.2 L16.83 -0.22 L18.02 -0.25 L19.21 -0.28 L20.4 -0.3 L21.59 -0.33 L22.78 -0.35 L23.97 -0.37 L25.16 -0.4 L26.35 -0.42 L27.54 -0.44 L28.73 -0.46 L29.92 -0.49 L31.11 -0.51 L32.3 -0.53 L33.49 -0.54 L34.68 -0.56 L35.88 -0.57 L37.07 -0.59 L38.26 -0.6 L39.45 -0.61 L40.64 -0.62 L41.83 -0.64 L43.02 -0.65 L44.21 -0.67 L45.4 -0.69 L46.59 -0.71 L47.78 -0.73 L48.97 -0.75 L50.16 -0.78 L51.35 -0.81 L52.54 -0.87 L53.74 -0.94 L54.93 -1.03 L56.12 -1.13 L57.31 -1.25 L58.5 -1.37 L59.69 -1.49 L60.88 -1.61 L62.07 -1.73 L63.26 -1.84 L64.45 -1.95 L65.64 -2.06 L66.83 -2.17 L68.02 -2.29 L69.21 -2.4 L70.4 -2.52 L71.59 -2.64 L72.79 -2.77 L73.98 -2.9 L75.17 -3.03 L76.36 -3.16 L77.55 -3.29 L78.74 -3.42 L79.93 -3.53 L81.12 -3.65 L82.31 -3.78 L83.5 -3.91 L84.69 -4.07 L85.88 -4.25 L87.07 -4.47 L88.26 -4.72 L89.45 -5.1 L90.65 -5.77 L91.84 -6.63 L93.03 -7.58 L94.22 -8.5 L95.41 -9.37 L96.6 -10.33 L97.79 -11.31 L98.98 -12.2 L100.17 -12.94 L101.36 -13.48 L102.55 -13.97 L103.74 -14.39 L104.93 -14.75 L106.12 -15.04 L107.31 -15.27 L108.51 -15.46 L109.7 -15.62 L110.89 -15.75 L112.08 -15.87 L113.27 -15.99 L114.46 -16.12 L115.65 -16.27 L116.84 -16.44 L118.03 -16.65 L119.22 -16.91 L120.41 -17.23 L121.6 -17.61 L122.79 -18.04 L123.98 -18.53 L125.17 -19.06 L126.36 -19.63 L127.56 -20.3 L128.75 -21.1 L129.94 -22.01 L131.13 -23 L132.32 -24.06 L133.51 -25.15 L134.7 -26.28 L135.89 -27.51 L137.08 -28.85 L138.27 -30.26 L139.46 -31.71 L140.65 -33.19 L141.84 -34.7 L143.03 -36.27 L144.22 -37.9 L145.42 -39.6 L146.61 -41.37 L147.8 -43.31 L148.99 -45.35 L150.18 -47.39 L151.37 -49.34 L152.56 -51.11 L153.75 -52.75 L154.94 -54.33 L156.13 -55.86 L157.32 -57.4 L158.51 -58.99 L159.7 -60.62 L160.89 -62.26 L162.08 -63.87 L163.27 -65.42 L164.47 -66.9 L165.66 -68.43 L166.85 -69.89 L168.04 -71.13 L169.23 -72.01 L170.42 -72.71 L171.61 -73.26 L172.8 -73.6" fill="none" stroke="#ff0000" stroke-width="3.7" stroke-linecap="round" stroke-linejoin="round"/>
<text class="rd" x="172.8" y="-76.4" text-anchor="middle">12063</text>
<text class="tt" x="89" y="-82.1" text-anchor="middle">Κρήτη</text>
</g>
<g transform="translate(452.1 362)">
<path d="M6.8 0V-0.39 H6.9V-0.25 H7.9V-0.31 H8.9V-0.31 H9.9V-0.42 H10.9V-0.41 H11.9V-0.27 H12.9V-0.36 H13.9V-0.42 H14.9V-0.29 H15.9V-0.3 H16.9V-0.32 H17.9V-0.47 H18.9V-0.3 H19.9V-0.4 H20.9V-0.39 H21.9V-0.32 H22.9V-0.35 H23.9V-0.41 H24.9V-0.47 H25.9V-0.31 H26.9V-0.43 H27.9V-0.33 H28.9V-0.48 H29.9V-0.44 H30.9V-0.49 H31.9V-0.53 H32.9V-0.53 H33.9V-0.47 H34.9V-0.42 H35.9V-0.56 H36.9V-0.41 H37.9V-0.35 H38.9V-0.53 H39.9V-0.39 H40.9V-0.41 H41.9V-0.53 H42.9V-0.5 H43.9V-0.56 H44.9V-0.52 H45.9V-0.55 H46.9V-0.43 H47.9V-0.62 H48.9V-0.5 H49.9V-0.59 H50.9V-0.54 H51.9V-0.47 H52.9V-0.53 H53.9V-0.5 H54.9V-0.65 H55.9V-0.66 H56.9V-0.46 H57.9V-0.54 H58.9V-0.49 H59.9V-0.46 H60.9V-0.48 H61.9V-0.67 H62.9V-0.48 H63.9V-0.45 H64.9V-0.61 H65.9V-0.45 H66.9V-0.6 H67.9V-0.73 H68.9V-0.7 H69.9V-0.6 H70.9V-0.67 H71.9V-0.61 H72.9V-0.77 H73.9V-0.71 H74.9V-0.61 H75.9V-0.69 H76.9V-0.98 H77.9V-2.52 H78.9V-3.03 H79.9V-4.25 H80.9V-4.01 H81.9V-4.47 H82.9V-5.85 H83.9V-3.61 H84.9V-4.63 H85.9V-3.41 H86.9V-4.33 H87.9V-5.82 H88.9V-5.57 H89.9V-9.38 H90.9V-9.72 H91.9V-10.53 H92.9V-16.92 H93.9V-14.17 H94.9V-20.65 H95.9V-18.3 H96.9V-20.45 H97.9V-21.78 H98.9V-20.77 H99.9V-21.45 H100.9V-19.5 H101.9V-8.22 H102.9V-12.54 H103.9V-8.68 H104.9V-8.06 H105.9V-11.19 H106.9V-8.22 H107.9V-10.92 H108.9V-7.22 H109.9V-6.86 H110.9V-9.78 H111.9V-6.43 H112.9V-8.95 H113.9V-7.13 H114.9V-7.65 H115.9V-10.32 H116.9V-9.77 H117.9V-11.24 H118.9V-9.01 H119.9V-9.42 H120.9V-13.8 H121.9V-17.38 H122.9V-21.7 H123.9V-21.78 H124.9V-24.57 H125.9V-38.12 H126.9V-35.36 H127.9V-41.04 H128.9V-36.81 H129.9V-39.3 H130.9V-49.38 H131.9V-41.1 H132.9V-41.14 H133.9V-53.6 H134.9V-47.92 H135.9V-54.66 H136.9V-46.66 H137.9V-50.12 H138.9V-60.83 H139.9V-46.5 H140.9V-62.71 H141.9V-41.87 H142.9V-39.53 H143.9V-59.37 H144.9V-49.27 H145.9V-58.6 H146.9V-53.25 H147.9V-56.12 H148.9V-56.39 H149.9V-41.85 H150.9V-42.46 H151.9V-28.71 H152.9V-24.93 H153.9V-30.71 H154.9V-25.78 H155.9V-38.25 H156.9V-51.03 H157.9V-65.67 H158.9V-72.39 H159.9V-52.33 H160.9V-55.68 H161.9V-62.08 H162.9V-46.03 H163.9V-52.19 H164.9V-37.34 H165.9V-26.28 H166.9V-19.34 H167.9V-16.21 H168.9V-17.35 H169.9V-10.55 H170.9V-7.45 H171.9V-6.5 H172.9V0ZM159.1 0V-73.2H160.9V0ZM6.75 0V-10.3H7.85V0Z" fill="#4a6c8a" transform="translate(0 0.4)"/>
<path d="M0 -76.5V2.9H179.1" fill="none" stroke="#303434" stroke-width="1.2" stroke-linejoin="miter"/>
<path d="M0 -68.5V2.6" fill="none" stroke="#0c0c0c" stroke-width="1.4"/>
<path d="M-2.4 0H0M-2.4 -13.6H0M-2.4 -27.2H0M-2.4 -40.8H0M-2.4 -54.4H0M-2.4 -68H0" stroke="#111" stroke-width="1" fill="none"/>
<text class="tl" x="-4.4" y="1.2" text-anchor="end">0</text>
<text class="tl" x="-4.4" y="-12.4" text-anchor="end">50</text>
<text class="tl" x="-4.4" y="-26" text-anchor="end">100</text>
<text class="tl" x="-4.4" y="-39.6" text-anchor="end">150</text>
<text class="tl" x="-4.4" y="-53.2" text-anchor="end">200</text>
<text class="tl" x="-4.4" y="-66.8" text-anchor="end">250</text>
<path d="M114.4 3.2V5.2" stroke="#222" stroke-width="0.9"/>
<text class="xl" x="114.4" y="11.4" text-anchor="middle">2021</text>
<path d="M179.1 -77V0.2" stroke="#2e2e2e" stroke-width="1.3" fill="none"/>
<path d="M179.1 0h3M179.1 -19.05h3M179.1 -38.1h3M179.1 -57.15h3M179.1 -76.2h3" stroke="#1c1c1c" stroke-width="1" fill="none"/>
<text class="rl" transform="translate(186.7 0) rotate(-90)" text-anchor="middle">0</text>
<text class="rl" transform="translate(186.7 -19.05) rotate(-90)" text-anchor="middle">5000</text>
<text class="rl" transform="translate(186.7 -38.1) rotate(-90)" text-anchor="middle">10000</text>
<text class="rl" transform="translate(186.7 -57.15) rotate(-90)" text-anchor="middle">15000</text>
<text class="rl" transform="translate(186.7 -76.2) rotate(-90)" text-anchor="middle">20000</text>
<text class="rd" x="126.5" y="-21.7" text-anchor="middle">4274</text>
<text class="rd" x="141" y="-39.7" text-anchor="middle">9811</text>
<path d="M7 -0 L8.19 -0.01 L9.38 -0.03 L10.58 -0.04 L11.77 -0.05 L12.96 -0.07 L14.15 -0.08 L15.34 -0.1 L16.54 -0.11 L17.73 -0.12 L18.92 -0.14 L20.11 -0.15 L21.31 -0.17 L22.5 -0.18 L23.69 -0.2 L24.88 -0.21 L26.07 -0.23 L27.27 -0.25 L28.46 -0.26 L29.65 -0.28 L30.84 -0.29 L32.03 -0.31 L33.23 -0.32 L34.42 -0.34 L35.61 -0.36 L36.8 -0.38 L37.99 -0.39 L39.19 -0.41 L40.38 -0.43 L41.57 -0.45 L42.76 -0.46 L43.95 -0.48 L45.15 -0.5 L46.34 -0.52 L47.53 -0.53 L48.72 -0.55 L49.92 -0.57 L51.11 -0.59 L52.3 -0.61 L53.49 -0.62 L54.68 -0.64 L55.88 -0.65 L57.07 -0.66 L58.26 -0.67 L59.45 -0.68 L60.64 -0.7 L61.84 -0.71 L63.03 -0.72 L64.22 -0.73 L65.41 -0.74 L66.6 -0.75 L67.8 -0.77 L68.99 -0.78 L70.18 -0.8 L71.37 -0.82 L72.56 -0.84 L73.76 -0.86 L74.95 -0.89 L76.14 -0.92 L77.33 -0.95 L78.53 -0.99 L79.72 -1.05 L80.91 -1.19 L82.1 -1.4 L83.29 -1.64 L84.49 -1.9 L85.68 -2.14 L86.87 -2.35 L88.06 -2.54 L89.25 -2.74 L90.45 -2.95 L91.64 -3.21 L92.83 -3.52 L94.02 -3.99 L95.21 -4.73 L96.41 -5.61 L97.6 -6.49 L98.79 -7.25 L99.98 -7.93 L101.17 -8.59 L102.37 -9.2 L103.56 -9.72 L104.75 -10.1 L105.94 -10.39 L107.14 -10.64 L108.33 -10.86 L109.52 -11.06 L110.71 -11.26 L111.9 -11.47 L113.1 -11.66 L114.29 -11.84 L115.48 -12 L116.67 -12.18 L117.86 -12.37 L119.06 -12.59 L120.25 -12.86 L121.44 -13.19 L122.63 -13.59 L123.82 -14.11 L125.02 -14.83 L126.21 -15.92 L127.4 -17.23 L128.59 -18.61 L129.78 -20.1 L130.98 -21.76 L132.17 -23.51 L133.36 -25.26 L134.55 -26.92 L135.75 -28.54 L136.94 -30.15 L138.13 -31.77 L139.32 -33.42 L140.51 -35.12 L141.71 -36.85 L142.9 -38.6 L144.09 -40.4 L145.28 -42.25 L146.47 -44.27 L147.67 -46.45 L148.86 -48.51 L150.05 -50.12 L151.24 -51.37 L152.43 -52.45 L153.63 -53.54 L154.82 -54.67 L156.01 -55.75 L157.2 -56.94 L158.39 -58.5 L159.59 -61.1 L160.78 -63.9 L161.97 -65.93 L163.16 -67.72 L164.36 -69.24 L165.55 -70.42 L166.74 -71.38 L167.93 -72.19 L169.12 -72.83 L170.32 -73.33 L171.51 -73.73 L172.7 -74" fill="none" stroke="#ff0000" stroke-width="3.7" stroke-linecap="round" stroke-linejoin="round"/>
<text class="rd" x="172.7" y="-76.4" text-anchor="middle">19627</text>
<text class="tt" x="89" y="-82.1" text-anchor="middle">Δυτική Ελλάδα</text>
</g>
<g transform="translate(36.1 490.5)">
<path d="M7 0V-0.4 H7.9V-0.4 H8.9V-0.38 H9.9V-0.37 H10.9V-0.46 H11.9V-0.54 H12.9V-0.54 H13.9V-0.52 H14.9V-0.43 H15.9V-0.41 H16.9V-0.46 H17.9V-0.46 H18.9V-0.39 H19.9V-0.39 H20.9V-0.47 H21.9V-0.61 H22.9V-0.61 H23.9V-0.59 H24.9V-0.39 H25.9V-0.43 H26.9V-0.49 H27.9V-0.5 H28.9V-0.44 H29.9V-0.55 H30.9V-0.44 H31.9V-0.66 H32.9V-0.43 H33.9V-0.45 H34.9V-0.5 H35.9V-0.51 H36.9V-0.65 H37.9V-0.51 H38.9V-0.44 H39.9V-0.61 H40.9V-0.73 H41.9V-0.61 H42.9V-0.49 H43.9V-0.67 H44.9V-0.63 H45.9V-0.73 H46.9V-0.53 H47.9V-0.59 H48.9V-0.67 H49.9V-0.52 H50.9V-0.57 H51.9V-0.55 H52.9V-0.69 H53.9V-0.51 H54.9V-0.66 H55.9V-0.63 H56.9V-0.71 H57.9V-0.7 H58.9V-0.62 H59.9V-0.61 H60.9V-0.69 H61.9V-0.72 H62.9V-0.64 H63.9V-0.46 H64.9V-0.69 H65.9V-0.7 H66.9V-0.44 H67.9V-0.48 H68.9V-0.55 H69.9V-1.85 H70.9V-3.48 H71.9V-2.71 H72.9V-3.28 H73.9V-2.32 H74.9V-1.71 H75.9V-2.16 H76.9V-2.42 H77.9V-3.92 H78.9V-3.88 H79.9V-4.18 H80.9V-4.78 H81.9V-5.14 H82.9V-5.55 H83.9V-3.34 H84.9V-5.31 H85.9V-10.32 H86.9V-8.21 H87.9V-10.37 H88.9V-7.55 H89.9V-6.99 H90.9V-7.82 H91.9V-11.38 H92.9V-19.02 H93.9V-27.83 H94.9V-24.76 H95.9V-21.28 H96.9V-16.49 H97.9V-18.52 H98.9V-23.07 H99.9V-15.06 H100.9V-21.02 H101.9V-15.25 H102.9V-19.89 H103.9V-22.82 H104.9V-18.11 H105.9V-24.41 H106.9V-12.27 H107.9V-9.31 H108.9V-13.72 H109.9V-10.53 H110.9V-12.48 H111.9V-9.83 H112.9V-10.5 H113.9V-16.59 H114.9V-14.62 H115.9V-23.18 H116.9V-15.3 H117.9V-12.33 H118.9V-17.21 H119.9V-11.24 H120.9V-21.01 H121.9V-21.64 H122.9V-24.26 H123.9V-32.44 H124.9V-25.54 H125.9V-28.93 H126.9V-42.83 H127.9V-27.1 H128.9V-33.76 H129.9V-22.12 H130.9V-22.21 H131.9V-35.33 H132.9V-22.96 H133.9V-42.4 H134.9V-41.69 H135.9V-38.78 H136.9V-45.77 H137.9V-49.68 H138.9V-68.32 H139.9V-54.86 H140.9V-54.18 H141.9V-69.97 H142.9V-43.98 H143.9V-55.14 H144.9V-56.78 H145.9V-52.42 H146.9V-64.79 H147.9V-38.5 H148.9V-52.61 H149.9V-40.88 H150.9V-43.57 H151.9V-53.81 H152.9V-59.82 H153.9V-57.58 H154.9V-45.6 H155.9V-47 H156.9V-53.63 H157.9V-43.28 H158.9V-46.24 H159.9V-55.16 H160.9V-45.36 H161.9V-48.55 H162.9V-33.01 H163.9V-29.21 H164.9V-31.26 H165.9V-22.12 H166.9V-26.89 H167.9V-20.01 H168.9V-17.36 H169.9V-20.28 H170.9V-15.83 H171.9V-12.42 H172.8V0ZM140.25 0V-73.3H141.95V0ZM145 0V-70.7H146.4V0ZM15.05 0V-7.7H16.15V0ZM18.25 0V-4.8H19.35V0Z" fill="#4a6c8a" transform="translate(0 0.4)"/>
<path d="M0 -76.5V2.9H179.1" fill="none" stroke="#303434" stroke-width="1.2" stroke-linejoin="miter"/>
<path d="M0 -74.1V2.6" fill="none" stroke="#0c0c0c" stroke-width="1.4"/>
<path d="M-2.4 0H0M-2.4 -18.4H0M-2.4 -36.8H0M-2.4 -55.2H0M-2.4 -73.6H0" stroke="#111" stroke-width="1" fill="none"/>
<text class="tl" x="-4.4" y="1.2" text-anchor="end">0</text>
<text class="tl" x="-4.4" y="-17.2" text-anchor="end">50</text>
<text class="tl" x="-4.4" y="-35.6" text-anchor="end">100</text>
<text class="tl" x="-4.4" y="-54" text-anchor="end">150</text>
<text class="tl" x="-4.4" y="-72.4" text-anchor="end">200</text>
<path d="M114.3 3.2V5.2" stroke="#222" stroke-width="0.9"/>
<text class="xl" x="114.3" y="11.4" text-anchor="middle">2021</text>
<path d="M179.1 -74.3V0.2" stroke="#2e2e2e" stroke-width="1.3" fill="none"/>
<path d="M179.1 0h3M179.1 -10.5h3M179.1 -21h3M179.1 -31.5h3M179.1 -42h3M179.1 -52.5h3M179.1 -63h3M179.1 -73.5h3" stroke="#1c1c1c" stroke-width="1" fill="none"/>
<text class="rl" transform="translate(186.7 0) rotate(-90)" text-anchor="middle">0</text>
<text class="rl" transform="translate(186.7 -10.5) rotate(-90)" text-anchor="middle">2000</text>
<text class="rl" transform="translate(186.7 -31.5) rotate(-90)" text-anchor="middle">6000</text>
<text class="rl" transform="translate(186.7 -52.5) rotate(-90)" text-anchor="middle">10000</text>
<text class="rl" transform="translate(186.7 -73.5) rotate(-90)" text-anchor="middle">14000</text>
<text class="yt" transform="translate(-14.9 -36.5) rotate(-90)" text-anchor="middle" textLength="44.8" lengthAdjust="spacingAndGlyphs">Αριθμός νέων κρουσμάτων ανά ημέρα</text>
<text class="rd" x="123" y="-21.1" text-anchor="middle">3655</text>
<text class="rd" x="140.5" y="-39.9" text-anchor="middle">7805</text>
<path d="M7 -0 L8.19 -0.02 L9.39 -0.03 L10.58 -0.05 L11.77 -0.07 L12.96 -0.09 L14.16 -0.11 L15.35 -0.12 L16.54 -0.14 L17.74 -0.17 L18.93 -0.19 L20.12 -0.21 L21.31 -0.23 L22.51 -0.25 L23.7 -0.27 L24.89 -0.3 L26.08 -0.32 L27.28 -0.34 L28.47 -0.37 L29.66 -0.39 L30.86 -0.42 L32.05 -0.45 L33.24 -0.48 L34.43 -0.51 L35.63 -0.54 L36.82 -0.57 L38.01 -0.61 L39.21 -0.64 L40.4 -0.68 L41.59 -0.71 L42.78 -0.75 L43.98 -0.78 L45.17 -0.81 L46.36 -0.83 L47.56 -0.86 L48.75 -0.88 L49.94 -0.9 L51.13 -0.92 L52.33 -0.93 L53.52 -0.94 L54.71 -0.95 L55.91 -0.96 L57.1 -0.97 L58.29 -0.98 L59.48 -0.99 L60.68 -1 L61.87 -1.01 L63.06 -1.02 L64.25 -1.03 L65.45 -1.04 L66.64 -1.05 L67.83 -1.07 L69.03 -1.09 L70.22 -1.11 L71.41 -1.14 L72.6 -1.19 L73.8 -1.25 L74.99 -1.32 L76.18 -1.4 L77.38 -1.48 L78.57 -1.58 L79.76 -1.69 L80.95 -1.8 L82.15 -1.92 L83.34 -2.05 L84.53 -2.18 L85.73 -2.31 L86.92 -2.47 L88.11 -2.64 L89.3 -2.85 L90.5 -3.09 L91.69 -3.37 L92.88 -3.71 L94.07 -4.13 L95.27 -4.84 L96.46 -5.77 L97.65 -6.77 L98.85 -7.74 L100.04 -8.56 L101.23 -9.4 L102.42 -10.22 L103.62 -10.97 L104.81 -11.57 L106 -11.99 L107.2 -12.31 L108.39 -12.56 L109.58 -12.79 L110.77 -13.01 L111.97 -13.25 L113.16 -13.53 L114.35 -13.87 L115.55 -14.24 L116.74 -14.63 L117.93 -15.07 L119.12 -15.56 L120.32 -16.1 L121.51 -16.72 L122.7 -17.48 L123.89 -18.42 L125.09 -19.5 L126.28 -20.66 L127.47 -21.89 L128.67 -23.14 L129.86 -24.41 L131.05 -25.78 L132.24 -27.24 L133.44 -28.75 L134.63 -30.27 L135.82 -31.79 L137.02 -33.32 L138.21 -34.88 L139.4 -36.46 L140.59 -38.09 L141.79 -39.78 L142.98 -41.55 L144.17 -43.37 L145.37 -45.2 L146.56 -47 L147.75 -48.75 L148.94 -50.51 L150.14 -52.24 L151.33 -53.94 L152.52 -55.57 L153.72 -57.12 L154.91 -58.63 L156.1 -60.1 L157.29 -61.5 L158.49 -62.84 L159.68 -64.13 L160.87 -65.42 L162.06 -66.66 L163.26 -67.8 L164.45 -68.78 L165.64 -69.6 L166.84 -70.36 L168.03 -71.07 L169.22 -71.72 L170.41 -72.28 L171.61 -72.75 L172.8 -73.1" fill="none" stroke="#ff0000" stroke-width="3.7" stroke-linecap="round" stroke-linejoin="round"/>
<text class="rd" x="172.8" y="-76.4" text-anchor="middle">16443</text>
<text class="tt" x="89" y="-82.1" text-anchor="middle">Στερεά Ελλάδα</text>
</g>
<g transform="translate(244.1 490.5)">
<path d="M7.7 0V-0.26 H7.9V-0.22 H8.9V-0.25 H9.9V-0.31 H10.9V-0.38 H11.9V-0.35 H12.9V-0.42 H13.9V-0.47 H14.9V-0.4 H15.9V-0.92 H16.9V-0.94 H17.9V-1.27 H18.9V-0.55 H19.9V-0.36 H20.9V-0.36 H21.9V-0.5 H22.9V-0.42 H23.9V-0.45 H24.9V-0.42 H25.9V-0.42 H26.9V-0.48 H27.9V-0.5 H28.9V-0.4 H29.9V-0.4 H30.9V-0.6 H31.9V-0.58 H32.9V-0.45 H33.9V-0.47 H34.9V-0.49 H35.9V-0.54 H36.9V-0.47 H37.9V-0.59 H38.9V-0.73 H39.9V-0.52 H40.9V-0.59 H41.9V-0.67 H42.9V-0.69 H43.9V-0.67 H44.9V-0.65 H45.9V-0.55 H46.9V-0.8 H47.9V-0.68 H48.9V-0.7 H49.9V-0.85 H50.9V-0.84 H51.9V-0.89 H52.9V-1.05 H53.9V-1.04 H54.9V-0.92 H55.9V-1.14 H56.9V-1.48 H57.9V-1.12 H58.9V-1.69 H59.9V-1.44 H60.9V-1.04 H61.9V-1.38 H62.9V-2.46 H63.9V-5.36 H64.9V-7.85 H65.9V-10.01 H66.9V-8.34 H67.9V-7.47 H68.9V-4.01 H69.9V-3.27 H70.9V-6.52 H71.9V-6.45 H72.9V-7.38 H73.9V-10.42 H74.9V-7.37 H75.9V-10.32 H76.9V-7.47 H77.9V-6.5 H78.9V-7.85 H79.9V-5.03 H80.9V-6.97 H81.9V-5.36 H82.9V-4.84 H83.9V-5.43 H84.9V-6.82 H85.9V-11.29 H86.9V-23.12 H87.9V-21.43 H88.9V-29.79 H89.9V-18.22 H90.9V-20.35 H91.9V-25.28 H92.9V-25.25 H93.9V-29.41 H94.9V-23.68 H95.9V-26.9 H96.9V-33.3 H97.9V-26.63 H98.9V-28.87 H99.9V-16.69 H100.9V-14.4 H101.9V-20.89 H102.9V-16.38 H103.9V-24.33 H104.9V-20.44 H105.9V-20.77 H106.9V-25.13 H107.9V-21.68 H108.9V-15.01 H109.9V-12.02 H110.9V-13 H111.9V-15.41 H112.9V-10.17 H113.9V-10.08 H114.9V-10.48 H115.9V-13.49 H116.9V-17.83 H117.9V-10.71 H118.9V-7.97 H119.9V-10.27 H120.9V-13.13 H121.9V-18.83 H122.9V-11.23 H123.9V-8.82 H124.9V-8.04 H125.9V-4.34 H126.9V-3.86 H127.9V-2.94 H128.9V-4.61 H129.9V-9.32 H130.9V-9.39 H131.9V-15.19 H132.9V-13.2 H133.9V-14.36 H134.9V-20.65 H135.9V-19.05 H136.9V-29.58 H137.9V-27.07 H138.9V-24 H139.9V-19.41 H140.9V-18.36 H141.9V-23.86 H142.9V-17.42 H143.9V-14.99 H144.9V-21.43 H145.9V-25.82 H146.9V-28.19 H147.9V-19.58 H148.9V-14.31 H149.9V-14.84 H150.9V-10.08 H151.9V-10.96 H152.9V-6.49 H153.9V-5.53 H154.9V-8.74 H155.9V-7.89 H156.9V-8.8 H157.9V-14.14 H158.9V-15.49 H159.9V-20.26 H160.9V-18.84 H161.9V-16.89 H162.9V-20.31 H163.9V-13.39 H164.9V-21.84 H165.9V-16.05 H166.9V-8.52 H167.9V-9.26 H168.9V-7.99 H169.9V-7.97 H170.9V-6.94 H171.9V-4.78 H172.8V0ZM74.25 0V-27.7H75.15V0ZM60.3 0V-11.2H61.5V0ZM70.6 0V-21.7H71.7V0ZM75.4 0V-73.7H76.9V0Z" fill="#4a6c8a" transform="translate(0 0.4)"/>
<path d="M0 -76.5V2.9H179.1" fill="none" stroke="#303434" stroke-width="1.2" stroke-linejoin="miter"/>
<path d="M0 -64.75V2.6" fill="none" stroke="#0c0c0c" stroke-width="1.4"/>
<path d="M-2.4 0H0M-2.4 -12.85H0M-2.4 -25.7H0M-2.4 -38.55H0M-2.4 -51.4H0M-2.4 -64.25H0" stroke="#111" stroke-width="1" fill="none"/>
<text class="tl" x="-4.4" y="1.2" text-anchor="end">0</text>
<text class="tl" x="-4.4" y="-11.65" text-anchor="end">20</text>
<text class="tl" x="-4.4" y="-24.5" text-anchor="end">40</text>
<text class="tl" x="-4.4" y="-37.35" text-anchor="end">60</text>
<text class="tl" x="-4.4" y="-50.2" text-anchor="end">80</text>
<text class="tl" x="-4.4" y="-63.05" text-anchor="end">100</text>
<path d="M114.4 3.2V5.2" stroke="#222" stroke-width="0.9"/>
<text class="xl" x="114.4" y="11.4" text-anchor="middle">2021</text>
<path d="M179.1 -64.4V0.2" stroke="#2e2e2e" stroke-width="1.3" fill="none"/>
<path d="M179.1 0h3M179.1 -15.9h3M179.1 -31.8h3M179.1 -47.7h3M179.1 -63.6h3" stroke="#1c1c1c" stroke-width="1" fill="none"/>
<text class="rl" transform="translate(186.7 0) rotate(-90)" text-anchor="middle">0</text>
<text class="rl" transform="translate(186.7 -15.9) rotate(-90)" text-anchor="middle">1000</text>
<text class="rl" transform="translate(186.7 -31.8) rotate(-90)" text-anchor="middle">2000</text>
<text class="rl" transform="translate(186.7 -47.7) rotate(-90)" text-anchor="middle">3000</text>
<text class="rl" transform="translate(186.7 -63.6) rotate(-90)" text-anchor="middle">4000</text>
<text class="rd" x="112.9" y="-39.9" text-anchor="middle">3328</text>
<text class="rd" x="93.5" y="-21.2" text-anchor="middle">1287</text>
<path d="M7.3 -0 L8.49 -0.01 L9.68 -0.01 L10.87 -0.02 L12.06 -0.03 L13.25 -0.04 L14.44 -0.05 L15.63 -0.07 L16.83 -0.08 L18.02 -0.09 L19.21 -0.11 L20.4 -0.13 L21.59 -0.15 L22.78 -0.16 L23.97 -0.18 L25.16 -0.2 L26.35 -0.22 L27.54 -0.24 L28.73 -0.26 L29.92 -0.29 L31.11 -0.31 L32.3 -0.33 L33.49 -0.36 L34.68 -0.39 L35.88 -0.43 L37.07 -0.46 L38.26 -0.5 L39.45 -0.54 L40.64 -0.58 L41.83 -0.62 L43.02 -0.66 L44.21 -0.7 L45.4 -0.74 L46.59 -0.78 L47.78 -0.82 L48.97 -0.85 L50.16 -0.88 L51.35 -0.91 L52.54 -0.93 L53.74 -0.95 L54.93 -0.97 L56.12 -0.99 L57.31 -1.01 L58.5 -1.03 L59.69 -1.06 L60.88 -1.1 L62.07 -1.21 L63.26 -1.4 L64.45 -1.68 L65.64 -2.01 L66.83 -2.39 L68.02 -2.79 L69.21 -3.2 L70.4 -3.6 L71.59 -3.98 L72.79 -4.37 L73.98 -4.88 L75.17 -5.77 L76.36 -7.88 L77.55 -9.69 L78.74 -10.33 L79.93 -10.78 L81.12 -11.11 L82.31 -11.37 L83.5 -11.62 L84.69 -11.91 L85.88 -12.3 L87.07 -12.83 L88.26 -13.56 L89.45 -14.44 L90.65 -15.45 L91.84 -16.56 L93.03 -17.75 L94.22 -19.19 L95.41 -20.82 L96.6 -22.53 L97.79 -24.18 L98.98 -25.7 L100.17 -27.2 L101.36 -28.69 L102.55 -30.1 L103.74 -31.37 L104.93 -32.48 L106.12 -33.49 L107.31 -34.44 L108.51 -35.29 L109.7 -36.02 L110.89 -36.64 L112.08 -37.18 L113.27 -37.66 L114.46 -38.11 L115.65 -38.52 L116.84 -38.91 L118.03 -39.28 L119.22 -39.66 L120.41 -40.04 L121.6 -40.39 L122.79 -40.71 L123.98 -41.02 L125.17 -41.31 L126.36 -41.62 L127.56 -41.96 L128.75 -42.34 L129.94 -42.79 L131.13 -43.34 L132.32 -44.02 L133.51 -44.81 L134.7 -45.69 L135.89 -46.64 L137.08 -47.7 L138.27 -48.98 L139.46 -50.41 L140.65 -51.9 L141.84 -53.37 L143.03 -54.74 L144.22 -55.91 L145.42 -56.97 L146.61 -57.98 L147.8 -58.94 L148.99 -59.84 L150.18 -60.67 L151.37 -61.43 L152.56 -62.1 L153.75 -62.66 L154.94 -63.15 L156.13 -63.62 L157.32 -64.13 L158.51 -64.72 L159.7 -65.47 L160.89 -66.46 L162.08 -67.57 L163.27 -68.69 L164.47 -69.69 L165.66 -70.51 L166.85 -71.31 L168.04 -72.01 L169.23 -72.52 L170.42 -72.84 L171.61 -73.08 L172.8 -73.2" fill="none" stroke="#ff0000" stroke-width="3.7" stroke-linecap="round" stroke-linejoin="round"/>
<text class="rd" x="172.8" y="-76.4" text-anchor="middle">6562</text>
<text class="tt" x="89" y="-82.1" text-anchor="middle">Βόρειο Αιγαίο</text>
</g>
<g transform="translate(452.1 490.5)">
<path d="M7.4 0V-0.28 H7.9V-0.27 H8.9V-0.35 H9.9V-0.37 H10.9V-0.26 H11.9V-0.41 H12.9V-0.3 H13.9V-0.29 H14.9V-0.35 H15.9V-0.42 H16.9V-0.47 H17.9V-0.43 H18.9V-0.55 H19.9V-0.36 H20.9V-0.52 H21.9V-0.38 H22.9V-0.63 H23.9V-0.61 H24.9V-0.51 H25.9V-0.63 H26.9V-0.43 H27.9V-0.64 H28.9V-0.61 H29.9V-0.57 H30.9V-0.67 H31.9V-0.54 H32.9V-0.76 H33.9V-0.49 H34.9V-0.56 H35.9V-0.53 H36.9V-0.7 H37.9V-0.5 H38.9V-0.71 H39.9V-0.67 H40.9V-0.69 H41.9V-0.58 H42.9V-0.59 H43.9V-0.48 H44.9V-0.44 H45.9V-0.6 H46.9V-0.6 H47.9V-0.67 H48.9V-0.7 H49.9V-1.16 H50.9V-0.94 H51.9V-2.4 H52.9V-3.58 H53.9V-3.43 H54.9V-4.24 H55.9V-6.77 H56.9V-6.86 H57.9V-12.02 H58.9V-8.95 H59.9V-10.66 H60.9V-17.17 H61.9V-12.46 H62.9V-11.4 H63.9V-13.76 H64.9V-8.28 H65.9V-10.13 H66.9V-6.74 H67.9V-5.8 H68.9V-7.6 H69.9V-4.82 H70.9V-10.46 H71.9V-8.99 H72.9V-8.05 H73.9V-8.6 H74.9V-7.3 H75.9V-9.25 H76.9V-6.97 H77.9V-7.5 H78.9V-9.54 H79.9V-8.36 H80.9V-12.13 H81.9V-10.47 H82.9V-11.37 H83.9V-15.43 H84.9V-11.04 H85.9V-18.04 H86.9V-12.59 H87.9V-12.15 H88.9V-15.33 H89.9V-12.26 H90.9V-13.6 H91.9V-18.2 H92.9V-14.92 H93.9V-16.27 H94.9V-13.45 H95.9V-12.2 H96.9V-12.12 H97.9V-10.45 H98.9V-11.72 H99.9V-9.06 H100.9V-10.56 H101.9V-14.72 H102.9V-9.73 H103.9V-10.31 H104.9V-3.25 H105.9V-3.45 H106.9V-4.78 H107.9V-4.8 H108.9V-8.46 H109.9V-8.44 H110.9V-8.62 H111.9V-9.51 H112.9V-6.47 H113.9V-7.58 H114.9V-6.77 H115.9V-6.23 H116.9V-6.15 H117.9V-5.2 H118.9V-6.69 H119.9V-5.51 H120.9V-7.26 H121.9V-13.86 H122.9V-10.34 H123.9V-11.77 H124.9V-18.53 H125.9V-12.59 H126.9V-18.05 H127.9V-14.09 H128.9V-21.89 H129.9V-32.93 H130.9V-25.38 H131.9V-36.6 H132.9V-34.07 H133.9V-21.01 H134.9V-18.68 H135.9V-20.04 H136.9V-31.98 H137.9V-30.19 H138.9V-33.06 H139.9V-39.75 H140.9V-29.19 H141.9V-39.26 H142.9V-29.48 H143.9V-46.83 H144.9V-62.6 H145.9V-61.6 H146.9V-73.6 H147.9V-54.54 H148.9V-37.7 H149.9V-36.66 H150.9V-24.53 H151.9V-33.9 H152.9V-23.44 H153.9V-20.19 H154.9V-34.58 H155.9V-41.92 H156.9V-52.21 H157.9V-69.22 H158.9V-56.73 H159.9V-73.6 H160.9V-49.73 H161.9V-40.08 H162.9V-40.52 H163.9V-24.17 H164.9V-28.66 H165.9V-21.63 H166.9V-21.91 H167.9V-22.96 H168.9V-21.16 H169.9V-16.08 H170.9V-11.19 H171.9V-17.59 H172.9V0ZM145.7 0V-73.3H148.1V0ZM158.5 0V-71.7H160.7V0ZM95.2 0V-30.4H96.3V0Z" fill="#4a6c8a" transform="translate(0 0.4)"/>
<path d="M0 -76.5V2.9H179.1" fill="none" stroke="#303434" stroke-width="1.2" stroke-linejoin="miter"/>
<path d="M0 -76V2.6" fill="none" stroke="#0c0c0c" stroke-width="1.4"/>
<path d="M-2.4 0H0M-2.4 -15.1H0M-2.4 -30.2H0M-2.4 -45.3H0M-2.4 -60.4H0M-2.4 -75.5H0" stroke="#111" stroke-width="1" fill="none"/>
<text class="tl" x="-4.4" y="1.2" text-anchor="end">0</text>
<text class="tl" x="-4.4" y="-13.9" text-anchor="end">20</text>
<text class="tl" x="-4.4" y="-29" text-anchor="end">40</text>
<text class="tl" x="-4.4" y="-44.1" text-anchor="end">60</text>
<text class="tl" x="-4.4" y="-59.2" text-anchor="end">80</text>
<text class="tl" x="-4.4" y="-74.3" text-anchor="end">100</text>
<path d="M112.4 3.2V5.2" stroke="#222" stroke-width="0.9"/>
<text class="xl" x="112.4" y="11.4" text-anchor="middle">2021</text>
<path d="M179.1 -73.16V0.2" stroke="#2e2e2e" stroke-width="1.3" fill="none"/>
<path d="M179.1 0h3M179.1 -12.06h3M179.1 -24.12h3M179.1 -36.18h3M179.1 -48.24h3M179.1 -60.3h3M179.1 -72.36h3" stroke="#1c1c1c" stroke-width="1" fill="none"/>
<text class="rl" transform="translate(186.7 0) rotate(-90)" text-anchor="middle">0</text>
<text class="rl" transform="translate(186.7 -12.06) rotate(-90)" text-anchor="middle">1000</text>
<text class="rl" transform="translate(186.7 -24.12) rotate(-90)" text-anchor="middle">2000</text>
<text class="rl" transform="translate(186.7 -36.18) rotate(-90)" text-anchor="middle">3000</text>
<text class="rl" transform="translate(186.7 -48.24) rotate(-90)" text-anchor="middle">4000</text>
<text class="rl" transform="translate(186.7 -60.3) rotate(-90)" text-anchor="middle">5000</text>
<text class="rl" transform="translate(186.7 -72.36) rotate(-90)" text-anchor="middle">6000</text>
<text class="rd" x="100" y="-21.9" text-anchor="middle">1636</text>
<text class="rd" x="140.6" y="-39.4" text-anchor="middle">3350</text>
<path d="M7 -0 L8.19 -0 L9.38 -0 L10.58 -0 L11.77 -0 L12.96 -0 L14.15 -0 L15.34 -0 L16.54 -0 L17.73 -0 L18.92 -0.01 L20.11 -0.01 L21.31 -0.01 L22.5 -0.01 L23.69 -0.01 L24.88 -0.01 L26.07 -0.02 L27.27 -0.02 L28.46 -0.02 L29.65 -0.02 L30.84 -0.02 L32.03 -0.03 L33.23 -0.03 L34.42 -0.03 L35.61 -0.03 L36.8 -0.04 L37.99 -0.04 L39.19 -0.04 L40.38 -0.05 L41.57 -0.05 L42.76 -0.05 L43.95 -0.06 L45.15 -0.07 L46.34 -0.08 L47.53 -0.09 L48.72 -0.1 L49.92 -0.12 L51.11 -0.14 L52.3 -0.2 L53.49 -0.36 L54.68 -0.55 L55.88 -0.83 L57.07 -1.18 L58.26 -1.54 L59.45 -1.96 L60.64 -2.41 L61.84 -2.89 L63.03 -3.38 L64.22 -3.84 L65.41 -4.27 L66.6 -4.65 L67.8 -5 L68.99 -5.33 L70.18 -5.65 L71.37 -5.96 L72.56 -6.28 L73.76 -6.61 L74.95 -6.96 L76.14 -7.34 L77.33 -7.75 L78.53 -8.17 L79.72 -8.6 L80.91 -9.06 L82.1 -9.55 L83.29 -10.06 L84.49 -10.62 L85.68 -11.24 L86.87 -11.91 L88.06 -12.6 L89.25 -13.3 L90.45 -13.98 L91.64 -14.62 L92.83 -15.26 L94.02 -15.92 L95.21 -16.58 L96.41 -17.2 L97.6 -17.77 L98.79 -18.26 L99.98 -18.65 L101.17 -18.98 L102.37 -19.29 L103.56 -19.57 L104.75 -19.82 L105.94 -20.06 L107.14 -20.29 L108.33 -20.51 L109.52 -20.72 L110.71 -20.92 L111.9 -21.09 L113.1 -21.25 L114.29 -21.39 L115.48 -21.54 L116.67 -21.69 L117.86 -21.86 L119.06 -22.05 L120.25 -22.27 L121.44 -22.53 L122.63 -22.88 L123.82 -23.32 L125.02 -23.84 L126.21 -24.42 L127.4 -25.06 L128.59 -25.74 L129.78 -26.47 L130.98 -27.35 L132.17 -28.34 L133.36 -29.4 L134.55 -30.45 L135.75 -31.44 L136.94 -32.38 L138.13 -33.3 L139.32 -34.29 L140.51 -35.39 L141.71 -36.7 L142.9 -38.34 L144.09 -40.19 L145.28 -42.11 L146.47 -43.99 L147.67 -45.69 L148.86 -47.33 L150.05 -48.94 L151.24 -50.52 L152.43 -52.07 L153.63 -53.57 L154.82 -54.93 L156.01 -56.24 L157.2 -57.65 L158.39 -59.3 L159.59 -61.56 L160.78 -64.44 L161.97 -66.17 L163.16 -67.49 L164.36 -68.57 L165.55 -69.48 L166.74 -70.25 L167.93 -70.91 L169.12 -71.51 L170.32 -72.09 L171.51 -72.62 L172.7 -73.1" fill="none" stroke="#ff0000" stroke-width="3.7" stroke-linecap="round" stroke-linejoin="round"/>
<text class="rd" x="172.7" y="-76.4" text-anchor="middle">6097</text>
<text class="tt" x="89" y="-82.1" text-anchor="middle">Νότιο Αιγαίο</text>
</g>
<g transform="translate(36.1 619)">
<path d="M6 0V-0.22 H6.9V-0.22 H7.9V-0.2 H8.9V-0.25 H9.9V-0.2 H10.9V-0.21 H11.9V-0.23 H12.9V-0.29 H13.9V-0.33 H14.9V-0.25 H15.9V-0.29 H16.9V-0.22 H17.9V-0.33 H18.9V-0.35 H19.9V-0.23 H20.9V-0.24 H21.9V-0.29 H22.9V-0.31 H23.9V-0.29 H24.9V-0.26 H25.9V-0.33 H26.9V-0.34 H27.9V-0.32 H28.9V-0.34 H29.9V-0.28 H30.9V-0.36 H31.9V-0.49 H32.9V-0.41 H33.9V-0.62 H34.9V-0.59 H35.9V-0.82 H36.9V-0.68 H37.9V-0.93 H38.9V-0.95 H39.9V-0.93 H40.9V-0.83 H41.9V-1.01 H42.9V-0.98 H43.9V-0.87 H44.9V-1.06 H45.9V-1.56 H46.9V-1.19 H47.9V-1.47 H48.9V-1.39 H49.9V-2.41 H50.9V-2.79 H51.9V-4.33 H52.9V-4.13 H53.9V-4.84 H54.9V-7.35 H55.9V-6.51 H56.9V-11.5 H57.9V-9.56 H58.9V-10.34 H59.9V-12.37 H60.9V-8.2 H61.9V-7.88 H62.9V-5.57 H63.9V-6.81 H64.9V-12.97 H65.9V-12.96 H66.9V-15.5 H67.9V-13.13 H68.9V-11.77 H69.9V-11.75 H70.9V-6.64 H71.9V-11.39 H72.9V-12.76 H73.9V-14.02 H74.9V-14.97 H75.9V-10.13 H76.9V-12.13 H77.9V-10.39 H78.9V-10.55 H79.9V-11.25 H80.9V-9.78 H81.9V-10.1 H82.9V-10.09 H83.9V-9.37 H84.9V-10.19 H85.9V-10.03 H86.9V-11.9 H87.9V-16.41 H88.9V-13.16 H89.9V-18.04 H90.9V-16.71 H91.9V-19.36 H92.9V-27.19 H93.9V-18.42 H94.9V-25.19 H95.9V-20.54 H96.9V-22.33 H97.9V-30.68 H98.9V-24.05 H99.9V-17.25 H100.9V-13.73 H101.9V-14.04 H102.9V-8.22 H103.9V-2.29 H104.9V-1.78 H105.9V-2.28 H106.9V-4.44 H107.9V-9.13 H108.9V-8.77 H109.9V-9.1 H110.9V-9.86 H111.9V-7.2 H112.9V-8.59 H113.9V-6.36 H114.9V-4.78 H115.9V-2.51 H116.9V-1.42 H117.9V-1.58 H118.9V-2.78 H119.9V-5.52 H120.9V-8.01 H121.9V-8.17 H122.9V-9.36 H123.9V-9.19 H124.9V-12.45 H125.9V-21.06 H126.9V-20.17 H127.9V-27.82 H128.9V-20.34 H129.9V-20.78 H130.9V-38.41 H131.9V-30.43 H132.9V-43.78 H133.9V-29.59 H134.9V-17.47 H135.9V-26.33 H136.9V-22.7 H137.9V-23.72 H138.9V-20.15 H139.9V-31.48 H140.9V-42.04 H141.9V-41.32 H142.9V-41.36 H143.9V-58.92 H144.9V-50.72 H145.9V-51.09 H146.9V-38.06 H147.9V-25.03 H148.9V-32.28 H149.9V-33.06 H150.9V-30.61 H151.9V-23.06 H152.9V-24.14 H153.9V-28.92 H154.9V-19.43 H155.9V-19.71 H156.9V-34.74 H157.9V-58.14 H158.9V-73.9 H159.9V-70.88 H160.9V-64.61 H161.9V-39.62 H162.9V-40.27 H163.9V-54.82 H164.9V-49.75 H165.9V-38.63 H166.9V-38.28 H167.9V-36.93 H168.9V-34.5 H169.9V-22.97 H170.9V-17.75 H171.9V-9.53 H172.8V0ZM159.35 0V-73.6H161.05V0ZM144.35 0V-58.9H145.85V0ZM6.15 0V-4.8H7.25V0Z" fill="#4a6c8a" transform="translate(0 0.4)"/>
<path d="M0 -76.5V2.9H179.1" fill="none" stroke="#303434" stroke-width="1.2" stroke-linejoin="miter"/>
<path d="M0 -66.25V2.6" fill="none" stroke="#0c0c0c" stroke-width="1.4"/>
<path d="M-2.4 0H0M-2.4 -13.15H0M-2.4 -26.3H0M-2.4 -39.45H0M-2.4 -52.6H0M-2.4 -65.75H0" stroke="#111" stroke-width="1" fill="none"/>
<text class="tl" x="-4.4" y="1.2" text-anchor="end">0</text>
<text class="tl" x="-4.4" y="-11.95" text-anchor="end">10</text>
<text class="tl" x="-4.4" y="-25.1" text-anchor="end">20</text>
<text class="tl" x="-4.4" y="-38.25" text-anchor="end">30</text>
<text class="tl" x="-4.4" y="-51.4" text-anchor="end">40</text>
<text class="tl" x="-4.4" y="-64.55" text-anchor="end">50</text>
<path d="M114.3 3.2V5.2" stroke="#222" stroke-width="0.9"/>
<text class="xl" x="114.3" y="11.4" text-anchor="middle">2021</text>
<path d="M179.1 -68.3V0.2" stroke="#2e2e2e" stroke-width="1.3" fill="none"/>
<path d="M179.1 0h3M179.1 -11.25h3M179.1 -22.5h3M179.1 -33.75h3M179.1 -45h3M179.1 -56.25h3M179.1 -67.5h3" stroke="#1c1c1c" stroke-width="1" fill="none"/>
<text class="rl" transform="translate(186.7 0) rotate(-90)" text-anchor="middle">0</text>
<text class="rl" transform="translate(186.7 -11.25) rotate(-90)" text-anchor="middle">500</text>
<text class="rl" transform="translate(186.7 -22.5) rotate(-90)" text-anchor="middle">1000</text>
<text class="rl" transform="translate(186.7 -33.75) rotate(-90)" text-anchor="middle">1500</text>
<text class="rl" transform="translate(186.7 -45) rotate(-90)" text-anchor="middle">2000</text>
<text class="rl" transform="translate(186.7 -56.25) rotate(-90)" text-anchor="middle">2500</text>
<text class="rl" transform="translate(186.7 -67.5) rotate(-90)" text-anchor="middle">3000</text>
<text class="yt" transform="translate(-14.9 -36.5) rotate(-90)" text-anchor="middle" textLength="44.8" lengthAdjust="spacingAndGlyphs">Αριθμός νέων κρουσμάτων ανά ημέρα</text>
<text class="rd" x="101" y="-21.4" text-anchor="middle">978</text>
<text class="rd" x="140" y="-39.4" text-anchor="middle">1617</text>
<path d="M7 -0 L8.19 -0 L9.39 -0.01 L10.58 -0.01 L11.77 -0.02 L12.96 -0.02 L14.16 -0.03 L15.35 -0.03 L16.54 -0.04 L17.74 -0.04 L18.93 -0.05 L20.12 -0.06 L21.31 -0.06 L22.51 -0.07 L23.7 -0.07 L24.89 -0.08 L26.08 -0.08 L27.28 -0.09 L28.47 -0.09 L29.66 -0.1 L30.86 -0.1 L32.05 -0.11 L33.24 -0.11 L34.43 -0.12 L35.63 -0.12 L36.82 -0.12 L38.01 -0.13 L39.21 -0.13 L40.4 -0.14 L41.59 -0.14 L42.78 -0.15 L43.98 -0.15 L45.17 -0.16 L46.36 -0.17 L47.56 -0.18 L48.75 -0.19 L49.94 -0.2 L51.13 -0.29 L52.33 -0.49 L53.52 -0.78 L54.71 -1.14 L55.91 -1.54 L57.1 -1.96 L58.29 -2.35 L59.48 -2.71 L60.68 -3.03 L61.87 -3.35 L63.06 -3.68 L64.25 -4 L65.45 -4.32 L66.64 -4.64 L67.83 -4.94 L69.03 -5.24 L70.22 -5.52 L71.41 -5.77 L72.6 -6.01 L73.8 -6.23 L74.99 -6.46 L76.18 -6.69 L77.38 -6.94 L78.57 -7.23 L79.76 -7.55 L80.95 -7.91 L82.15 -8.33 L83.34 -8.8 L84.53 -9.31 L85.73 -9.87 L86.92 -10.48 L88.11 -11.19 L89.3 -11.97 L90.5 -12.81 L91.69 -13.66 L92.88 -14.62 L94.07 -15.65 L95.27 -16.64 L96.46 -17.5 L97.65 -18.35 L98.85 -19.1 L100.04 -19.59 L101.23 -19.83 L102.42 -20.03 L103.62 -20.19 L104.81 -20.32 L106 -20.43 L107.2 -20.55 L108.39 -20.67 L109.58 -20.82 L110.77 -20.98 L111.97 -21.13 L113.16 -21.27 L114.35 -21.43 L115.55 -21.58 L116.74 -21.76 L117.93 -21.95 L119.12 -22.17 L120.32 -22.41 L121.51 -22.67 L122.7 -22.97 L123.89 -23.32 L125.09 -23.72 L126.28 -24.19 L127.47 -24.74 L128.67 -25.62 L129.86 -26.8 L131.05 -28.13 L132.24 -29.45 L133.44 -30.61 L134.63 -31.64 L135.82 -32.63 L137.02 -33.61 L138.21 -34.66 L139.4 -35.8 L140.59 -37.07 L141.79 -38.42 L142.98 -39.84 L144.17 -41.28 L145.37 -42.72 L146.56 -44.23 L147.75 -45.8 L148.94 -47.36 L150.14 -48.83 L151.33 -50.14 L152.52 -51.26 L153.72 -52.26 L154.91 -53.23 L156.1 -54.26 L157.29 -55.47 L158.49 -56.98 L159.68 -59.08 L160.87 -61.5 L162.06 -63.83 L163.26 -65.71 L164.45 -67.37 L165.64 -68.89 L166.84 -70.22 L168.03 -71.3 L169.22 -72.22 L170.41 -73.04 L171.61 -73.71 L172.8 -74.2" fill="none" stroke="#ff0000" stroke-width="3.7" stroke-linecap="round" stroke-linejoin="round"/>
<text class="rd" x="172.8" y="-76.4" text-anchor="middle">3267</text>
<text class="tt" x="89" y="-82.1" text-anchor="middle">Ιόνια Νησιά</text>
</g>
</svg>
<p class="note">Σημ.: οι στήλες εκφράζουν τον αριθμό νέων κρουσμάτων με βάση την ημερομηνία λήψης εργαστηριακού δείγματος, και όχι με βάση την ημερομηνία ανακοίνωσης των κρουσμάτων.</p>
</body>
</html>
